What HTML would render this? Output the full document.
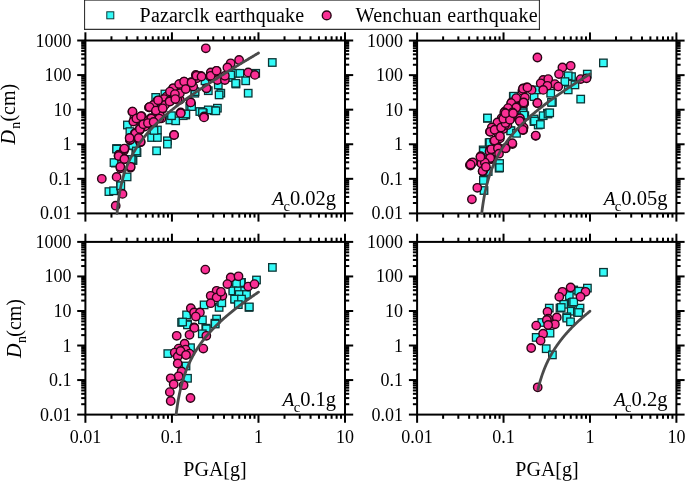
<!DOCTYPE html>
<html><head><meta charset="utf-8"><style>
html,body{margin:0;padding:0;background:#fff;width:685px;height:481px;overflow:hidden}
svg{display:block;will-change:transform}
</style></head><body>
<svg width="685" height="481" viewBox="0 0 685 481">
<rect width="685" height="481" fill="#fff"/>
<rect x="85.40" y="40.50" width="259.60" height="172.90" fill="none" stroke="#000" stroke-width="2.0"/>
<line x1="85.40" y1="213.40" x2="85.40" y2="221.60" stroke="#000" stroke-width="2.0"/>
<line x1="85.40" y1="40.50" x2="85.40" y2="32.30" stroke="#000" stroke-width="2.0"/>
<line x1="111.45" y1="213.40" x2="111.45" y2="217.60" stroke="#000" stroke-width="2.0"/>
<line x1="111.45" y1="40.50" x2="111.45" y2="36.30" stroke="#000" stroke-width="2.0"/>
<line x1="126.69" y1="213.40" x2="126.69" y2="217.60" stroke="#000" stroke-width="2.0"/>
<line x1="126.69" y1="40.50" x2="126.69" y2="36.30" stroke="#000" stroke-width="2.0"/>
<line x1="137.50" y1="213.40" x2="137.50" y2="217.60" stroke="#000" stroke-width="2.0"/>
<line x1="137.50" y1="40.50" x2="137.50" y2="36.30" stroke="#000" stroke-width="2.0"/>
<line x1="145.88" y1="213.40" x2="145.88" y2="217.60" stroke="#000" stroke-width="2.0"/>
<line x1="145.88" y1="40.50" x2="145.88" y2="36.30" stroke="#000" stroke-width="2.0"/>
<line x1="152.74" y1="213.40" x2="152.74" y2="217.60" stroke="#000" stroke-width="2.0"/>
<line x1="152.74" y1="40.50" x2="152.74" y2="36.30" stroke="#000" stroke-width="2.0"/>
<line x1="158.53" y1="213.40" x2="158.53" y2="217.60" stroke="#000" stroke-width="2.0"/>
<line x1="158.53" y1="40.50" x2="158.53" y2="36.30" stroke="#000" stroke-width="2.0"/>
<line x1="163.55" y1="213.40" x2="163.55" y2="217.60" stroke="#000" stroke-width="2.0"/>
<line x1="163.55" y1="40.50" x2="163.55" y2="36.30" stroke="#000" stroke-width="2.0"/>
<line x1="167.97" y1="213.40" x2="167.97" y2="217.60" stroke="#000" stroke-width="2.0"/>
<line x1="167.97" y1="40.50" x2="167.97" y2="36.30" stroke="#000" stroke-width="2.0"/>
<line x1="171.93" y1="213.40" x2="171.93" y2="221.60" stroke="#000" stroke-width="2.0"/>
<line x1="171.93" y1="40.50" x2="171.93" y2="32.30" stroke="#000" stroke-width="2.0"/>
<line x1="197.98" y1="213.40" x2="197.98" y2="217.60" stroke="#000" stroke-width="2.0"/>
<line x1="197.98" y1="40.50" x2="197.98" y2="36.30" stroke="#000" stroke-width="2.0"/>
<line x1="213.22" y1="213.40" x2="213.22" y2="217.60" stroke="#000" stroke-width="2.0"/>
<line x1="213.22" y1="40.50" x2="213.22" y2="36.30" stroke="#000" stroke-width="2.0"/>
<line x1="224.03" y1="213.40" x2="224.03" y2="217.60" stroke="#000" stroke-width="2.0"/>
<line x1="224.03" y1="40.50" x2="224.03" y2="36.30" stroke="#000" stroke-width="2.0"/>
<line x1="232.42" y1="213.40" x2="232.42" y2="217.60" stroke="#000" stroke-width="2.0"/>
<line x1="232.42" y1="40.50" x2="232.42" y2="36.30" stroke="#000" stroke-width="2.0"/>
<line x1="239.27" y1="213.40" x2="239.27" y2="217.60" stroke="#000" stroke-width="2.0"/>
<line x1="239.27" y1="40.50" x2="239.27" y2="36.30" stroke="#000" stroke-width="2.0"/>
<line x1="245.06" y1="213.40" x2="245.06" y2="217.60" stroke="#000" stroke-width="2.0"/>
<line x1="245.06" y1="40.50" x2="245.06" y2="36.30" stroke="#000" stroke-width="2.0"/>
<line x1="250.08" y1="213.40" x2="250.08" y2="217.60" stroke="#000" stroke-width="2.0"/>
<line x1="250.08" y1="40.50" x2="250.08" y2="36.30" stroke="#000" stroke-width="2.0"/>
<line x1="254.51" y1="213.40" x2="254.51" y2="217.60" stroke="#000" stroke-width="2.0"/>
<line x1="254.51" y1="40.50" x2="254.51" y2="36.30" stroke="#000" stroke-width="2.0"/>
<line x1="258.47" y1="213.40" x2="258.47" y2="221.60" stroke="#000" stroke-width="2.0"/>
<line x1="258.47" y1="40.50" x2="258.47" y2="32.30" stroke="#000" stroke-width="2.0"/>
<line x1="284.52" y1="213.40" x2="284.52" y2="217.60" stroke="#000" stroke-width="2.0"/>
<line x1="284.52" y1="40.50" x2="284.52" y2="36.30" stroke="#000" stroke-width="2.0"/>
<line x1="299.75" y1="213.40" x2="299.75" y2="217.60" stroke="#000" stroke-width="2.0"/>
<line x1="299.75" y1="40.50" x2="299.75" y2="36.30" stroke="#000" stroke-width="2.0"/>
<line x1="310.56" y1="213.40" x2="310.56" y2="217.60" stroke="#000" stroke-width="2.0"/>
<line x1="310.56" y1="40.50" x2="310.56" y2="36.30" stroke="#000" stroke-width="2.0"/>
<line x1="318.95" y1="213.40" x2="318.95" y2="217.60" stroke="#000" stroke-width="2.0"/>
<line x1="318.95" y1="40.50" x2="318.95" y2="36.30" stroke="#000" stroke-width="2.0"/>
<line x1="325.80" y1="213.40" x2="325.80" y2="217.60" stroke="#000" stroke-width="2.0"/>
<line x1="325.80" y1="40.50" x2="325.80" y2="36.30" stroke="#000" stroke-width="2.0"/>
<line x1="331.60" y1="213.40" x2="331.60" y2="217.60" stroke="#000" stroke-width="2.0"/>
<line x1="331.60" y1="40.50" x2="331.60" y2="36.30" stroke="#000" stroke-width="2.0"/>
<line x1="336.61" y1="213.40" x2="336.61" y2="217.60" stroke="#000" stroke-width="2.0"/>
<line x1="336.61" y1="40.50" x2="336.61" y2="36.30" stroke="#000" stroke-width="2.0"/>
<line x1="341.04" y1="213.40" x2="341.04" y2="217.60" stroke="#000" stroke-width="2.0"/>
<line x1="341.04" y1="40.50" x2="341.04" y2="36.30" stroke="#000" stroke-width="2.0"/>
<line x1="345.00" y1="213.40" x2="345.00" y2="221.60" stroke="#000" stroke-width="2.0"/>
<line x1="345.00" y1="40.50" x2="345.00" y2="32.30" stroke="#000" stroke-width="2.0"/>
<line x1="85.40" y1="213.40" x2="77.20" y2="213.40" stroke="#000" stroke-width="2.0"/>
<line x1="345.00" y1="213.40" x2="353.20" y2="213.40" stroke="#000" stroke-width="2.0"/>
<line x1="85.40" y1="202.99" x2="81.20" y2="202.99" stroke="#000" stroke-width="2.0"/>
<line x1="345.00" y1="202.99" x2="349.20" y2="202.99" stroke="#000" stroke-width="2.0"/>
<line x1="85.40" y1="196.90" x2="81.20" y2="196.90" stroke="#000" stroke-width="2.0"/>
<line x1="345.00" y1="196.90" x2="349.20" y2="196.90" stroke="#000" stroke-width="2.0"/>
<line x1="85.40" y1="192.58" x2="81.20" y2="192.58" stroke="#000" stroke-width="2.0"/>
<line x1="345.00" y1="192.58" x2="349.20" y2="192.58" stroke="#000" stroke-width="2.0"/>
<line x1="85.40" y1="189.23" x2="81.20" y2="189.23" stroke="#000" stroke-width="2.0"/>
<line x1="345.00" y1="189.23" x2="349.20" y2="189.23" stroke="#000" stroke-width="2.0"/>
<line x1="85.40" y1="186.49" x2="81.20" y2="186.49" stroke="#000" stroke-width="2.0"/>
<line x1="345.00" y1="186.49" x2="349.20" y2="186.49" stroke="#000" stroke-width="2.0"/>
<line x1="85.40" y1="184.18" x2="81.20" y2="184.18" stroke="#000" stroke-width="2.0"/>
<line x1="345.00" y1="184.18" x2="349.20" y2="184.18" stroke="#000" stroke-width="2.0"/>
<line x1="85.40" y1="182.17" x2="81.20" y2="182.17" stroke="#000" stroke-width="2.0"/>
<line x1="345.00" y1="182.17" x2="349.20" y2="182.17" stroke="#000" stroke-width="2.0"/>
<line x1="85.40" y1="180.40" x2="81.20" y2="180.40" stroke="#000" stroke-width="2.0"/>
<line x1="345.00" y1="180.40" x2="349.20" y2="180.40" stroke="#000" stroke-width="2.0"/>
<line x1="85.40" y1="178.82" x2="77.20" y2="178.82" stroke="#000" stroke-width="2.0"/>
<line x1="345.00" y1="178.82" x2="353.20" y2="178.82" stroke="#000" stroke-width="2.0"/>
<line x1="85.40" y1="168.41" x2="81.20" y2="168.41" stroke="#000" stroke-width="2.0"/>
<line x1="345.00" y1="168.41" x2="349.20" y2="168.41" stroke="#000" stroke-width="2.0"/>
<line x1="85.40" y1="162.32" x2="81.20" y2="162.32" stroke="#000" stroke-width="2.0"/>
<line x1="345.00" y1="162.32" x2="349.20" y2="162.32" stroke="#000" stroke-width="2.0"/>
<line x1="85.40" y1="158.00" x2="81.20" y2="158.00" stroke="#000" stroke-width="2.0"/>
<line x1="345.00" y1="158.00" x2="349.20" y2="158.00" stroke="#000" stroke-width="2.0"/>
<line x1="85.40" y1="154.65" x2="81.20" y2="154.65" stroke="#000" stroke-width="2.0"/>
<line x1="345.00" y1="154.65" x2="349.20" y2="154.65" stroke="#000" stroke-width="2.0"/>
<line x1="85.40" y1="151.91" x2="81.20" y2="151.91" stroke="#000" stroke-width="2.0"/>
<line x1="345.00" y1="151.91" x2="349.20" y2="151.91" stroke="#000" stroke-width="2.0"/>
<line x1="85.40" y1="149.60" x2="81.20" y2="149.60" stroke="#000" stroke-width="2.0"/>
<line x1="345.00" y1="149.60" x2="349.20" y2="149.60" stroke="#000" stroke-width="2.0"/>
<line x1="85.40" y1="147.59" x2="81.20" y2="147.59" stroke="#000" stroke-width="2.0"/>
<line x1="345.00" y1="147.59" x2="349.20" y2="147.59" stroke="#000" stroke-width="2.0"/>
<line x1="85.40" y1="145.82" x2="81.20" y2="145.82" stroke="#000" stroke-width="2.0"/>
<line x1="345.00" y1="145.82" x2="349.20" y2="145.82" stroke="#000" stroke-width="2.0"/>
<line x1="85.40" y1="144.24" x2="77.20" y2="144.24" stroke="#000" stroke-width="2.0"/>
<line x1="345.00" y1="144.24" x2="353.20" y2="144.24" stroke="#000" stroke-width="2.0"/>
<line x1="85.40" y1="133.83" x2="81.20" y2="133.83" stroke="#000" stroke-width="2.0"/>
<line x1="345.00" y1="133.83" x2="349.20" y2="133.83" stroke="#000" stroke-width="2.0"/>
<line x1="85.40" y1="127.74" x2="81.20" y2="127.74" stroke="#000" stroke-width="2.0"/>
<line x1="345.00" y1="127.74" x2="349.20" y2="127.74" stroke="#000" stroke-width="2.0"/>
<line x1="85.40" y1="123.42" x2="81.20" y2="123.42" stroke="#000" stroke-width="2.0"/>
<line x1="345.00" y1="123.42" x2="349.20" y2="123.42" stroke="#000" stroke-width="2.0"/>
<line x1="85.40" y1="120.07" x2="81.20" y2="120.07" stroke="#000" stroke-width="2.0"/>
<line x1="345.00" y1="120.07" x2="349.20" y2="120.07" stroke="#000" stroke-width="2.0"/>
<line x1="85.40" y1="117.33" x2="81.20" y2="117.33" stroke="#000" stroke-width="2.0"/>
<line x1="345.00" y1="117.33" x2="349.20" y2="117.33" stroke="#000" stroke-width="2.0"/>
<line x1="85.40" y1="115.02" x2="81.20" y2="115.02" stroke="#000" stroke-width="2.0"/>
<line x1="345.00" y1="115.02" x2="349.20" y2="115.02" stroke="#000" stroke-width="2.0"/>
<line x1="85.40" y1="113.01" x2="81.20" y2="113.01" stroke="#000" stroke-width="2.0"/>
<line x1="345.00" y1="113.01" x2="349.20" y2="113.01" stroke="#000" stroke-width="2.0"/>
<line x1="85.40" y1="111.24" x2="81.20" y2="111.24" stroke="#000" stroke-width="2.0"/>
<line x1="345.00" y1="111.24" x2="349.20" y2="111.24" stroke="#000" stroke-width="2.0"/>
<line x1="85.40" y1="109.66" x2="77.20" y2="109.66" stroke="#000" stroke-width="2.0"/>
<line x1="345.00" y1="109.66" x2="353.20" y2="109.66" stroke="#000" stroke-width="2.0"/>
<line x1="85.40" y1="99.25" x2="81.20" y2="99.25" stroke="#000" stroke-width="2.0"/>
<line x1="345.00" y1="99.25" x2="349.20" y2="99.25" stroke="#000" stroke-width="2.0"/>
<line x1="85.40" y1="93.16" x2="81.20" y2="93.16" stroke="#000" stroke-width="2.0"/>
<line x1="345.00" y1="93.16" x2="349.20" y2="93.16" stroke="#000" stroke-width="2.0"/>
<line x1="85.40" y1="88.84" x2="81.20" y2="88.84" stroke="#000" stroke-width="2.0"/>
<line x1="345.00" y1="88.84" x2="349.20" y2="88.84" stroke="#000" stroke-width="2.0"/>
<line x1="85.40" y1="85.49" x2="81.20" y2="85.49" stroke="#000" stroke-width="2.0"/>
<line x1="345.00" y1="85.49" x2="349.20" y2="85.49" stroke="#000" stroke-width="2.0"/>
<line x1="85.40" y1="82.75" x2="81.20" y2="82.75" stroke="#000" stroke-width="2.0"/>
<line x1="345.00" y1="82.75" x2="349.20" y2="82.75" stroke="#000" stroke-width="2.0"/>
<line x1="85.40" y1="80.44" x2="81.20" y2="80.44" stroke="#000" stroke-width="2.0"/>
<line x1="345.00" y1="80.44" x2="349.20" y2="80.44" stroke="#000" stroke-width="2.0"/>
<line x1="85.40" y1="78.43" x2="81.20" y2="78.43" stroke="#000" stroke-width="2.0"/>
<line x1="345.00" y1="78.43" x2="349.20" y2="78.43" stroke="#000" stroke-width="2.0"/>
<line x1="85.40" y1="76.66" x2="81.20" y2="76.66" stroke="#000" stroke-width="2.0"/>
<line x1="345.00" y1="76.66" x2="349.20" y2="76.66" stroke="#000" stroke-width="2.0"/>
<line x1="85.40" y1="75.08" x2="77.20" y2="75.08" stroke="#000" stroke-width="2.0"/>
<line x1="345.00" y1="75.08" x2="353.20" y2="75.08" stroke="#000" stroke-width="2.0"/>
<line x1="85.40" y1="64.67" x2="81.20" y2="64.67" stroke="#000" stroke-width="2.0"/>
<line x1="345.00" y1="64.67" x2="349.20" y2="64.67" stroke="#000" stroke-width="2.0"/>
<line x1="85.40" y1="58.58" x2="81.20" y2="58.58" stroke="#000" stroke-width="2.0"/>
<line x1="345.00" y1="58.58" x2="349.20" y2="58.58" stroke="#000" stroke-width="2.0"/>
<line x1="85.40" y1="54.26" x2="81.20" y2="54.26" stroke="#000" stroke-width="2.0"/>
<line x1="345.00" y1="54.26" x2="349.20" y2="54.26" stroke="#000" stroke-width="2.0"/>
<line x1="85.40" y1="50.91" x2="81.20" y2="50.91" stroke="#000" stroke-width="2.0"/>
<line x1="345.00" y1="50.91" x2="349.20" y2="50.91" stroke="#000" stroke-width="2.0"/>
<line x1="85.40" y1="48.17" x2="81.20" y2="48.17" stroke="#000" stroke-width="2.0"/>
<line x1="345.00" y1="48.17" x2="349.20" y2="48.17" stroke="#000" stroke-width="2.0"/>
<line x1="85.40" y1="45.86" x2="81.20" y2="45.86" stroke="#000" stroke-width="2.0"/>
<line x1="345.00" y1="45.86" x2="349.20" y2="45.86" stroke="#000" stroke-width="2.0"/>
<line x1="85.40" y1="43.85" x2="81.20" y2="43.85" stroke="#000" stroke-width="2.0"/>
<line x1="345.00" y1="43.85" x2="349.20" y2="43.85" stroke="#000" stroke-width="2.0"/>
<line x1="85.40" y1="42.08" x2="81.20" y2="42.08" stroke="#000" stroke-width="2.0"/>
<line x1="345.00" y1="42.08" x2="349.20" y2="42.08" stroke="#000" stroke-width="2.0"/>
<line x1="85.40" y1="40.50" x2="77.20" y2="40.50" stroke="#000" stroke-width="2.0"/>
<line x1="345.00" y1="40.50" x2="353.20" y2="40.50" stroke="#000" stroke-width="2.0"/>
<rect x="417.10" y="40.60" width="259.30" height="172.80" fill="none" stroke="#000" stroke-width="2.0"/>
<line x1="417.10" y1="213.40" x2="417.10" y2="221.60" stroke="#000" stroke-width="2.0"/>
<line x1="417.10" y1="40.60" x2="417.10" y2="32.40" stroke="#000" stroke-width="2.0"/>
<line x1="443.12" y1="213.40" x2="443.12" y2="217.60" stroke="#000" stroke-width="2.0"/>
<line x1="443.12" y1="40.60" x2="443.12" y2="36.40" stroke="#000" stroke-width="2.0"/>
<line x1="458.34" y1="213.40" x2="458.34" y2="217.60" stroke="#000" stroke-width="2.0"/>
<line x1="458.34" y1="40.60" x2="458.34" y2="36.40" stroke="#000" stroke-width="2.0"/>
<line x1="469.14" y1="213.40" x2="469.14" y2="217.60" stroke="#000" stroke-width="2.0"/>
<line x1="469.14" y1="40.60" x2="469.14" y2="36.40" stroke="#000" stroke-width="2.0"/>
<line x1="477.51" y1="213.40" x2="477.51" y2="217.60" stroke="#000" stroke-width="2.0"/>
<line x1="477.51" y1="40.60" x2="477.51" y2="36.40" stroke="#000" stroke-width="2.0"/>
<line x1="484.36" y1="213.40" x2="484.36" y2="217.60" stroke="#000" stroke-width="2.0"/>
<line x1="484.36" y1="40.60" x2="484.36" y2="36.40" stroke="#000" stroke-width="2.0"/>
<line x1="490.14" y1="213.40" x2="490.14" y2="217.60" stroke="#000" stroke-width="2.0"/>
<line x1="490.14" y1="40.60" x2="490.14" y2="36.40" stroke="#000" stroke-width="2.0"/>
<line x1="495.16" y1="213.40" x2="495.16" y2="217.60" stroke="#000" stroke-width="2.0"/>
<line x1="495.16" y1="40.60" x2="495.16" y2="36.40" stroke="#000" stroke-width="2.0"/>
<line x1="499.58" y1="213.40" x2="499.58" y2="217.60" stroke="#000" stroke-width="2.0"/>
<line x1="499.58" y1="40.60" x2="499.58" y2="36.40" stroke="#000" stroke-width="2.0"/>
<line x1="503.53" y1="213.40" x2="503.53" y2="221.60" stroke="#000" stroke-width="2.0"/>
<line x1="503.53" y1="40.60" x2="503.53" y2="32.40" stroke="#000" stroke-width="2.0"/>
<line x1="529.55" y1="213.40" x2="529.55" y2="217.60" stroke="#000" stroke-width="2.0"/>
<line x1="529.55" y1="40.60" x2="529.55" y2="36.40" stroke="#000" stroke-width="2.0"/>
<line x1="544.77" y1="213.40" x2="544.77" y2="217.60" stroke="#000" stroke-width="2.0"/>
<line x1="544.77" y1="40.60" x2="544.77" y2="36.40" stroke="#000" stroke-width="2.0"/>
<line x1="555.57" y1="213.40" x2="555.57" y2="217.60" stroke="#000" stroke-width="2.0"/>
<line x1="555.57" y1="40.60" x2="555.57" y2="36.40" stroke="#000" stroke-width="2.0"/>
<line x1="563.95" y1="213.40" x2="563.95" y2="217.60" stroke="#000" stroke-width="2.0"/>
<line x1="563.95" y1="40.60" x2="563.95" y2="36.40" stroke="#000" stroke-width="2.0"/>
<line x1="570.79" y1="213.40" x2="570.79" y2="217.60" stroke="#000" stroke-width="2.0"/>
<line x1="570.79" y1="40.60" x2="570.79" y2="36.40" stroke="#000" stroke-width="2.0"/>
<line x1="576.58" y1="213.40" x2="576.58" y2="217.60" stroke="#000" stroke-width="2.0"/>
<line x1="576.58" y1="40.60" x2="576.58" y2="36.40" stroke="#000" stroke-width="2.0"/>
<line x1="581.59" y1="213.40" x2="581.59" y2="217.60" stroke="#000" stroke-width="2.0"/>
<line x1="581.59" y1="40.60" x2="581.59" y2="36.40" stroke="#000" stroke-width="2.0"/>
<line x1="586.01" y1="213.40" x2="586.01" y2="217.60" stroke="#000" stroke-width="2.0"/>
<line x1="586.01" y1="40.60" x2="586.01" y2="36.40" stroke="#000" stroke-width="2.0"/>
<line x1="589.97" y1="213.40" x2="589.97" y2="221.60" stroke="#000" stroke-width="2.0"/>
<line x1="589.97" y1="40.60" x2="589.97" y2="32.40" stroke="#000" stroke-width="2.0"/>
<line x1="615.99" y1="213.40" x2="615.99" y2="217.60" stroke="#000" stroke-width="2.0"/>
<line x1="615.99" y1="40.60" x2="615.99" y2="36.40" stroke="#000" stroke-width="2.0"/>
<line x1="631.21" y1="213.40" x2="631.21" y2="217.60" stroke="#000" stroke-width="2.0"/>
<line x1="631.21" y1="40.60" x2="631.21" y2="36.40" stroke="#000" stroke-width="2.0"/>
<line x1="642.00" y1="213.40" x2="642.00" y2="217.60" stroke="#000" stroke-width="2.0"/>
<line x1="642.00" y1="40.60" x2="642.00" y2="36.40" stroke="#000" stroke-width="2.0"/>
<line x1="650.38" y1="213.40" x2="650.38" y2="217.60" stroke="#000" stroke-width="2.0"/>
<line x1="650.38" y1="40.60" x2="650.38" y2="36.40" stroke="#000" stroke-width="2.0"/>
<line x1="657.22" y1="213.40" x2="657.22" y2="217.60" stroke="#000" stroke-width="2.0"/>
<line x1="657.22" y1="40.60" x2="657.22" y2="36.40" stroke="#000" stroke-width="2.0"/>
<line x1="663.01" y1="213.40" x2="663.01" y2="217.60" stroke="#000" stroke-width="2.0"/>
<line x1="663.01" y1="40.60" x2="663.01" y2="36.40" stroke="#000" stroke-width="2.0"/>
<line x1="668.02" y1="213.40" x2="668.02" y2="217.60" stroke="#000" stroke-width="2.0"/>
<line x1="668.02" y1="40.60" x2="668.02" y2="36.40" stroke="#000" stroke-width="2.0"/>
<line x1="672.45" y1="213.40" x2="672.45" y2="217.60" stroke="#000" stroke-width="2.0"/>
<line x1="672.45" y1="40.60" x2="672.45" y2="36.40" stroke="#000" stroke-width="2.0"/>
<line x1="676.40" y1="213.40" x2="676.40" y2="221.60" stroke="#000" stroke-width="2.0"/>
<line x1="676.40" y1="40.60" x2="676.40" y2="32.40" stroke="#000" stroke-width="2.0"/>
<line x1="417.10" y1="213.40" x2="408.90" y2="213.40" stroke="#000" stroke-width="2.0"/>
<line x1="676.40" y1="213.40" x2="684.60" y2="213.40" stroke="#000" stroke-width="2.0"/>
<line x1="417.10" y1="203.00" x2="412.90" y2="203.00" stroke="#000" stroke-width="2.0"/>
<line x1="676.40" y1="203.00" x2="680.60" y2="203.00" stroke="#000" stroke-width="2.0"/>
<line x1="417.10" y1="196.91" x2="412.90" y2="196.91" stroke="#000" stroke-width="2.0"/>
<line x1="676.40" y1="196.91" x2="680.60" y2="196.91" stroke="#000" stroke-width="2.0"/>
<line x1="417.10" y1="192.59" x2="412.90" y2="192.59" stroke="#000" stroke-width="2.0"/>
<line x1="676.40" y1="192.59" x2="680.60" y2="192.59" stroke="#000" stroke-width="2.0"/>
<line x1="417.10" y1="189.24" x2="412.90" y2="189.24" stroke="#000" stroke-width="2.0"/>
<line x1="676.40" y1="189.24" x2="680.60" y2="189.24" stroke="#000" stroke-width="2.0"/>
<line x1="417.10" y1="186.51" x2="412.90" y2="186.51" stroke="#000" stroke-width="2.0"/>
<line x1="676.40" y1="186.51" x2="680.60" y2="186.51" stroke="#000" stroke-width="2.0"/>
<line x1="417.10" y1="184.19" x2="412.90" y2="184.19" stroke="#000" stroke-width="2.0"/>
<line x1="676.40" y1="184.19" x2="680.60" y2="184.19" stroke="#000" stroke-width="2.0"/>
<line x1="417.10" y1="182.19" x2="412.90" y2="182.19" stroke="#000" stroke-width="2.0"/>
<line x1="676.40" y1="182.19" x2="680.60" y2="182.19" stroke="#000" stroke-width="2.0"/>
<line x1="417.10" y1="180.42" x2="412.90" y2="180.42" stroke="#000" stroke-width="2.0"/>
<line x1="676.40" y1="180.42" x2="680.60" y2="180.42" stroke="#000" stroke-width="2.0"/>
<line x1="417.10" y1="178.84" x2="408.90" y2="178.84" stroke="#000" stroke-width="2.0"/>
<line x1="676.40" y1="178.84" x2="684.60" y2="178.84" stroke="#000" stroke-width="2.0"/>
<line x1="417.10" y1="168.44" x2="412.90" y2="168.44" stroke="#000" stroke-width="2.0"/>
<line x1="676.40" y1="168.44" x2="680.60" y2="168.44" stroke="#000" stroke-width="2.0"/>
<line x1="417.10" y1="162.35" x2="412.90" y2="162.35" stroke="#000" stroke-width="2.0"/>
<line x1="676.40" y1="162.35" x2="680.60" y2="162.35" stroke="#000" stroke-width="2.0"/>
<line x1="417.10" y1="158.03" x2="412.90" y2="158.03" stroke="#000" stroke-width="2.0"/>
<line x1="676.40" y1="158.03" x2="680.60" y2="158.03" stroke="#000" stroke-width="2.0"/>
<line x1="417.10" y1="154.68" x2="412.90" y2="154.68" stroke="#000" stroke-width="2.0"/>
<line x1="676.40" y1="154.68" x2="680.60" y2="154.68" stroke="#000" stroke-width="2.0"/>
<line x1="417.10" y1="151.95" x2="412.90" y2="151.95" stroke="#000" stroke-width="2.0"/>
<line x1="676.40" y1="151.95" x2="680.60" y2="151.95" stroke="#000" stroke-width="2.0"/>
<line x1="417.10" y1="149.63" x2="412.90" y2="149.63" stroke="#000" stroke-width="2.0"/>
<line x1="676.40" y1="149.63" x2="680.60" y2="149.63" stroke="#000" stroke-width="2.0"/>
<line x1="417.10" y1="147.63" x2="412.90" y2="147.63" stroke="#000" stroke-width="2.0"/>
<line x1="676.40" y1="147.63" x2="680.60" y2="147.63" stroke="#000" stroke-width="2.0"/>
<line x1="417.10" y1="145.86" x2="412.90" y2="145.86" stroke="#000" stroke-width="2.0"/>
<line x1="676.40" y1="145.86" x2="680.60" y2="145.86" stroke="#000" stroke-width="2.0"/>
<line x1="417.10" y1="144.28" x2="408.90" y2="144.28" stroke="#000" stroke-width="2.0"/>
<line x1="676.40" y1="144.28" x2="684.60" y2="144.28" stroke="#000" stroke-width="2.0"/>
<line x1="417.10" y1="133.88" x2="412.90" y2="133.88" stroke="#000" stroke-width="2.0"/>
<line x1="676.40" y1="133.88" x2="680.60" y2="133.88" stroke="#000" stroke-width="2.0"/>
<line x1="417.10" y1="127.79" x2="412.90" y2="127.79" stroke="#000" stroke-width="2.0"/>
<line x1="676.40" y1="127.79" x2="680.60" y2="127.79" stroke="#000" stroke-width="2.0"/>
<line x1="417.10" y1="123.47" x2="412.90" y2="123.47" stroke="#000" stroke-width="2.0"/>
<line x1="676.40" y1="123.47" x2="680.60" y2="123.47" stroke="#000" stroke-width="2.0"/>
<line x1="417.10" y1="120.12" x2="412.90" y2="120.12" stroke="#000" stroke-width="2.0"/>
<line x1="676.40" y1="120.12" x2="680.60" y2="120.12" stroke="#000" stroke-width="2.0"/>
<line x1="417.10" y1="117.39" x2="412.90" y2="117.39" stroke="#000" stroke-width="2.0"/>
<line x1="676.40" y1="117.39" x2="680.60" y2="117.39" stroke="#000" stroke-width="2.0"/>
<line x1="417.10" y1="115.07" x2="412.90" y2="115.07" stroke="#000" stroke-width="2.0"/>
<line x1="676.40" y1="115.07" x2="680.60" y2="115.07" stroke="#000" stroke-width="2.0"/>
<line x1="417.10" y1="113.07" x2="412.90" y2="113.07" stroke="#000" stroke-width="2.0"/>
<line x1="676.40" y1="113.07" x2="680.60" y2="113.07" stroke="#000" stroke-width="2.0"/>
<line x1="417.10" y1="111.30" x2="412.90" y2="111.30" stroke="#000" stroke-width="2.0"/>
<line x1="676.40" y1="111.30" x2="680.60" y2="111.30" stroke="#000" stroke-width="2.0"/>
<line x1="417.10" y1="109.72" x2="408.90" y2="109.72" stroke="#000" stroke-width="2.0"/>
<line x1="676.40" y1="109.72" x2="684.60" y2="109.72" stroke="#000" stroke-width="2.0"/>
<line x1="417.10" y1="99.32" x2="412.90" y2="99.32" stroke="#000" stroke-width="2.0"/>
<line x1="676.40" y1="99.32" x2="680.60" y2="99.32" stroke="#000" stroke-width="2.0"/>
<line x1="417.10" y1="93.23" x2="412.90" y2="93.23" stroke="#000" stroke-width="2.0"/>
<line x1="676.40" y1="93.23" x2="680.60" y2="93.23" stroke="#000" stroke-width="2.0"/>
<line x1="417.10" y1="88.91" x2="412.90" y2="88.91" stroke="#000" stroke-width="2.0"/>
<line x1="676.40" y1="88.91" x2="680.60" y2="88.91" stroke="#000" stroke-width="2.0"/>
<line x1="417.10" y1="85.56" x2="412.90" y2="85.56" stroke="#000" stroke-width="2.0"/>
<line x1="676.40" y1="85.56" x2="680.60" y2="85.56" stroke="#000" stroke-width="2.0"/>
<line x1="417.10" y1="82.83" x2="412.90" y2="82.83" stroke="#000" stroke-width="2.0"/>
<line x1="676.40" y1="82.83" x2="680.60" y2="82.83" stroke="#000" stroke-width="2.0"/>
<line x1="417.10" y1="80.51" x2="412.90" y2="80.51" stroke="#000" stroke-width="2.0"/>
<line x1="676.40" y1="80.51" x2="680.60" y2="80.51" stroke="#000" stroke-width="2.0"/>
<line x1="417.10" y1="78.51" x2="412.90" y2="78.51" stroke="#000" stroke-width="2.0"/>
<line x1="676.40" y1="78.51" x2="680.60" y2="78.51" stroke="#000" stroke-width="2.0"/>
<line x1="417.10" y1="76.74" x2="412.90" y2="76.74" stroke="#000" stroke-width="2.0"/>
<line x1="676.40" y1="76.74" x2="680.60" y2="76.74" stroke="#000" stroke-width="2.0"/>
<line x1="417.10" y1="75.16" x2="408.90" y2="75.16" stroke="#000" stroke-width="2.0"/>
<line x1="676.40" y1="75.16" x2="684.60" y2="75.16" stroke="#000" stroke-width="2.0"/>
<line x1="417.10" y1="64.76" x2="412.90" y2="64.76" stroke="#000" stroke-width="2.0"/>
<line x1="676.40" y1="64.76" x2="680.60" y2="64.76" stroke="#000" stroke-width="2.0"/>
<line x1="417.10" y1="58.67" x2="412.90" y2="58.67" stroke="#000" stroke-width="2.0"/>
<line x1="676.40" y1="58.67" x2="680.60" y2="58.67" stroke="#000" stroke-width="2.0"/>
<line x1="417.10" y1="54.35" x2="412.90" y2="54.35" stroke="#000" stroke-width="2.0"/>
<line x1="676.40" y1="54.35" x2="680.60" y2="54.35" stroke="#000" stroke-width="2.0"/>
<line x1="417.10" y1="51.00" x2="412.90" y2="51.00" stroke="#000" stroke-width="2.0"/>
<line x1="676.40" y1="51.00" x2="680.60" y2="51.00" stroke="#000" stroke-width="2.0"/>
<line x1="417.10" y1="48.27" x2="412.90" y2="48.27" stroke="#000" stroke-width="2.0"/>
<line x1="676.40" y1="48.27" x2="680.60" y2="48.27" stroke="#000" stroke-width="2.0"/>
<line x1="417.10" y1="45.95" x2="412.90" y2="45.95" stroke="#000" stroke-width="2.0"/>
<line x1="676.40" y1="45.95" x2="680.60" y2="45.95" stroke="#000" stroke-width="2.0"/>
<line x1="417.10" y1="43.95" x2="412.90" y2="43.95" stroke="#000" stroke-width="2.0"/>
<line x1="676.40" y1="43.95" x2="680.60" y2="43.95" stroke="#000" stroke-width="2.0"/>
<line x1="417.10" y1="42.18" x2="412.90" y2="42.18" stroke="#000" stroke-width="2.0"/>
<line x1="676.40" y1="42.18" x2="680.60" y2="42.18" stroke="#000" stroke-width="2.0"/>
<line x1="417.10" y1="40.60" x2="408.90" y2="40.60" stroke="#000" stroke-width="2.0"/>
<line x1="676.40" y1="40.60" x2="684.60" y2="40.60" stroke="#000" stroke-width="2.0"/>
<rect x="85.40" y="241.90" width="259.60" height="172.70" fill="none" stroke="#000" stroke-width="2.0"/>
<line x1="85.40" y1="414.60" x2="85.40" y2="422.80" stroke="#000" stroke-width="2.0"/>
<line x1="85.40" y1="241.90" x2="85.40" y2="233.70" stroke="#000" stroke-width="2.0"/>
<line x1="111.45" y1="414.60" x2="111.45" y2="418.80" stroke="#000" stroke-width="2.0"/>
<line x1="111.45" y1="241.90" x2="111.45" y2="237.70" stroke="#000" stroke-width="2.0"/>
<line x1="126.69" y1="414.60" x2="126.69" y2="418.80" stroke="#000" stroke-width="2.0"/>
<line x1="126.69" y1="241.90" x2="126.69" y2="237.70" stroke="#000" stroke-width="2.0"/>
<line x1="137.50" y1="414.60" x2="137.50" y2="418.80" stroke="#000" stroke-width="2.0"/>
<line x1="137.50" y1="241.90" x2="137.50" y2="237.70" stroke="#000" stroke-width="2.0"/>
<line x1="145.88" y1="414.60" x2="145.88" y2="418.80" stroke="#000" stroke-width="2.0"/>
<line x1="145.88" y1="241.90" x2="145.88" y2="237.70" stroke="#000" stroke-width="2.0"/>
<line x1="152.74" y1="414.60" x2="152.74" y2="418.80" stroke="#000" stroke-width="2.0"/>
<line x1="152.74" y1="241.90" x2="152.74" y2="237.70" stroke="#000" stroke-width="2.0"/>
<line x1="158.53" y1="414.60" x2="158.53" y2="418.80" stroke="#000" stroke-width="2.0"/>
<line x1="158.53" y1="241.90" x2="158.53" y2="237.70" stroke="#000" stroke-width="2.0"/>
<line x1="163.55" y1="414.60" x2="163.55" y2="418.80" stroke="#000" stroke-width="2.0"/>
<line x1="163.55" y1="241.90" x2="163.55" y2="237.70" stroke="#000" stroke-width="2.0"/>
<line x1="167.97" y1="414.60" x2="167.97" y2="418.80" stroke="#000" stroke-width="2.0"/>
<line x1="167.97" y1="241.90" x2="167.97" y2="237.70" stroke="#000" stroke-width="2.0"/>
<line x1="171.93" y1="414.60" x2="171.93" y2="422.80" stroke="#000" stroke-width="2.0"/>
<line x1="171.93" y1="241.90" x2="171.93" y2="233.70" stroke="#000" stroke-width="2.0"/>
<line x1="197.98" y1="414.60" x2="197.98" y2="418.80" stroke="#000" stroke-width="2.0"/>
<line x1="197.98" y1="241.90" x2="197.98" y2="237.70" stroke="#000" stroke-width="2.0"/>
<line x1="213.22" y1="414.60" x2="213.22" y2="418.80" stroke="#000" stroke-width="2.0"/>
<line x1="213.22" y1="241.90" x2="213.22" y2="237.70" stroke="#000" stroke-width="2.0"/>
<line x1="224.03" y1="414.60" x2="224.03" y2="418.80" stroke="#000" stroke-width="2.0"/>
<line x1="224.03" y1="241.90" x2="224.03" y2="237.70" stroke="#000" stroke-width="2.0"/>
<line x1="232.42" y1="414.60" x2="232.42" y2="418.80" stroke="#000" stroke-width="2.0"/>
<line x1="232.42" y1="241.90" x2="232.42" y2="237.70" stroke="#000" stroke-width="2.0"/>
<line x1="239.27" y1="414.60" x2="239.27" y2="418.80" stroke="#000" stroke-width="2.0"/>
<line x1="239.27" y1="241.90" x2="239.27" y2="237.70" stroke="#000" stroke-width="2.0"/>
<line x1="245.06" y1="414.60" x2="245.06" y2="418.80" stroke="#000" stroke-width="2.0"/>
<line x1="245.06" y1="241.90" x2="245.06" y2="237.70" stroke="#000" stroke-width="2.0"/>
<line x1="250.08" y1="414.60" x2="250.08" y2="418.80" stroke="#000" stroke-width="2.0"/>
<line x1="250.08" y1="241.90" x2="250.08" y2="237.70" stroke="#000" stroke-width="2.0"/>
<line x1="254.51" y1="414.60" x2="254.51" y2="418.80" stroke="#000" stroke-width="2.0"/>
<line x1="254.51" y1="241.90" x2="254.51" y2="237.70" stroke="#000" stroke-width="2.0"/>
<line x1="258.47" y1="414.60" x2="258.47" y2="422.80" stroke="#000" stroke-width="2.0"/>
<line x1="258.47" y1="241.90" x2="258.47" y2="233.70" stroke="#000" stroke-width="2.0"/>
<line x1="284.52" y1="414.60" x2="284.52" y2="418.80" stroke="#000" stroke-width="2.0"/>
<line x1="284.52" y1="241.90" x2="284.52" y2="237.70" stroke="#000" stroke-width="2.0"/>
<line x1="299.75" y1="414.60" x2="299.75" y2="418.80" stroke="#000" stroke-width="2.0"/>
<line x1="299.75" y1="241.90" x2="299.75" y2="237.70" stroke="#000" stroke-width="2.0"/>
<line x1="310.56" y1="414.60" x2="310.56" y2="418.80" stroke="#000" stroke-width="2.0"/>
<line x1="310.56" y1="241.90" x2="310.56" y2="237.70" stroke="#000" stroke-width="2.0"/>
<line x1="318.95" y1="414.60" x2="318.95" y2="418.80" stroke="#000" stroke-width="2.0"/>
<line x1="318.95" y1="241.90" x2="318.95" y2="237.70" stroke="#000" stroke-width="2.0"/>
<line x1="325.80" y1="414.60" x2="325.80" y2="418.80" stroke="#000" stroke-width="2.0"/>
<line x1="325.80" y1="241.90" x2="325.80" y2="237.70" stroke="#000" stroke-width="2.0"/>
<line x1="331.60" y1="414.60" x2="331.60" y2="418.80" stroke="#000" stroke-width="2.0"/>
<line x1="331.60" y1="241.90" x2="331.60" y2="237.70" stroke="#000" stroke-width="2.0"/>
<line x1="336.61" y1="414.60" x2="336.61" y2="418.80" stroke="#000" stroke-width="2.0"/>
<line x1="336.61" y1="241.90" x2="336.61" y2="237.70" stroke="#000" stroke-width="2.0"/>
<line x1="341.04" y1="414.60" x2="341.04" y2="418.80" stroke="#000" stroke-width="2.0"/>
<line x1="341.04" y1="241.90" x2="341.04" y2="237.70" stroke="#000" stroke-width="2.0"/>
<line x1="345.00" y1="414.60" x2="345.00" y2="422.80" stroke="#000" stroke-width="2.0"/>
<line x1="345.00" y1="241.90" x2="345.00" y2="233.70" stroke="#000" stroke-width="2.0"/>
<line x1="85.40" y1="414.60" x2="77.20" y2="414.60" stroke="#000" stroke-width="2.0"/>
<line x1="345.00" y1="414.60" x2="353.20" y2="414.60" stroke="#000" stroke-width="2.0"/>
<line x1="85.40" y1="404.20" x2="81.20" y2="404.20" stroke="#000" stroke-width="2.0"/>
<line x1="345.00" y1="404.20" x2="349.20" y2="404.20" stroke="#000" stroke-width="2.0"/>
<line x1="85.40" y1="398.12" x2="81.20" y2="398.12" stroke="#000" stroke-width="2.0"/>
<line x1="345.00" y1="398.12" x2="349.20" y2="398.12" stroke="#000" stroke-width="2.0"/>
<line x1="85.40" y1="393.80" x2="81.20" y2="393.80" stroke="#000" stroke-width="2.0"/>
<line x1="345.00" y1="393.80" x2="349.20" y2="393.80" stroke="#000" stroke-width="2.0"/>
<line x1="85.40" y1="390.46" x2="81.20" y2="390.46" stroke="#000" stroke-width="2.0"/>
<line x1="345.00" y1="390.46" x2="349.20" y2="390.46" stroke="#000" stroke-width="2.0"/>
<line x1="85.40" y1="387.72" x2="81.20" y2="387.72" stroke="#000" stroke-width="2.0"/>
<line x1="345.00" y1="387.72" x2="349.20" y2="387.72" stroke="#000" stroke-width="2.0"/>
<line x1="85.40" y1="385.41" x2="81.20" y2="385.41" stroke="#000" stroke-width="2.0"/>
<line x1="345.00" y1="385.41" x2="349.20" y2="385.41" stroke="#000" stroke-width="2.0"/>
<line x1="85.40" y1="383.41" x2="81.20" y2="383.41" stroke="#000" stroke-width="2.0"/>
<line x1="345.00" y1="383.41" x2="349.20" y2="383.41" stroke="#000" stroke-width="2.0"/>
<line x1="85.40" y1="381.64" x2="81.20" y2="381.64" stroke="#000" stroke-width="2.0"/>
<line x1="345.00" y1="381.64" x2="349.20" y2="381.64" stroke="#000" stroke-width="2.0"/>
<line x1="85.40" y1="380.06" x2="77.20" y2="380.06" stroke="#000" stroke-width="2.0"/>
<line x1="345.00" y1="380.06" x2="353.20" y2="380.06" stroke="#000" stroke-width="2.0"/>
<line x1="85.40" y1="369.66" x2="81.20" y2="369.66" stroke="#000" stroke-width="2.0"/>
<line x1="345.00" y1="369.66" x2="349.20" y2="369.66" stroke="#000" stroke-width="2.0"/>
<line x1="85.40" y1="363.58" x2="81.20" y2="363.58" stroke="#000" stroke-width="2.0"/>
<line x1="345.00" y1="363.58" x2="349.20" y2="363.58" stroke="#000" stroke-width="2.0"/>
<line x1="85.40" y1="359.26" x2="81.20" y2="359.26" stroke="#000" stroke-width="2.0"/>
<line x1="345.00" y1="359.26" x2="349.20" y2="359.26" stroke="#000" stroke-width="2.0"/>
<line x1="85.40" y1="355.92" x2="81.20" y2="355.92" stroke="#000" stroke-width="2.0"/>
<line x1="345.00" y1="355.92" x2="349.20" y2="355.92" stroke="#000" stroke-width="2.0"/>
<line x1="85.40" y1="353.18" x2="81.20" y2="353.18" stroke="#000" stroke-width="2.0"/>
<line x1="345.00" y1="353.18" x2="349.20" y2="353.18" stroke="#000" stroke-width="2.0"/>
<line x1="85.40" y1="350.87" x2="81.20" y2="350.87" stroke="#000" stroke-width="2.0"/>
<line x1="345.00" y1="350.87" x2="349.20" y2="350.87" stroke="#000" stroke-width="2.0"/>
<line x1="85.40" y1="348.87" x2="81.20" y2="348.87" stroke="#000" stroke-width="2.0"/>
<line x1="345.00" y1="348.87" x2="349.20" y2="348.87" stroke="#000" stroke-width="2.0"/>
<line x1="85.40" y1="347.10" x2="81.20" y2="347.10" stroke="#000" stroke-width="2.0"/>
<line x1="345.00" y1="347.10" x2="349.20" y2="347.10" stroke="#000" stroke-width="2.0"/>
<line x1="85.40" y1="345.52" x2="77.20" y2="345.52" stroke="#000" stroke-width="2.0"/>
<line x1="345.00" y1="345.52" x2="353.20" y2="345.52" stroke="#000" stroke-width="2.0"/>
<line x1="85.40" y1="335.12" x2="81.20" y2="335.12" stroke="#000" stroke-width="2.0"/>
<line x1="345.00" y1="335.12" x2="349.20" y2="335.12" stroke="#000" stroke-width="2.0"/>
<line x1="85.40" y1="329.04" x2="81.20" y2="329.04" stroke="#000" stroke-width="2.0"/>
<line x1="345.00" y1="329.04" x2="349.20" y2="329.04" stroke="#000" stroke-width="2.0"/>
<line x1="85.40" y1="324.72" x2="81.20" y2="324.72" stroke="#000" stroke-width="2.0"/>
<line x1="345.00" y1="324.72" x2="349.20" y2="324.72" stroke="#000" stroke-width="2.0"/>
<line x1="85.40" y1="321.38" x2="81.20" y2="321.38" stroke="#000" stroke-width="2.0"/>
<line x1="345.00" y1="321.38" x2="349.20" y2="321.38" stroke="#000" stroke-width="2.0"/>
<line x1="85.40" y1="318.64" x2="81.20" y2="318.64" stroke="#000" stroke-width="2.0"/>
<line x1="345.00" y1="318.64" x2="349.20" y2="318.64" stroke="#000" stroke-width="2.0"/>
<line x1="85.40" y1="316.33" x2="81.20" y2="316.33" stroke="#000" stroke-width="2.0"/>
<line x1="345.00" y1="316.33" x2="349.20" y2="316.33" stroke="#000" stroke-width="2.0"/>
<line x1="85.40" y1="314.33" x2="81.20" y2="314.33" stroke="#000" stroke-width="2.0"/>
<line x1="345.00" y1="314.33" x2="349.20" y2="314.33" stroke="#000" stroke-width="2.0"/>
<line x1="85.40" y1="312.56" x2="81.20" y2="312.56" stroke="#000" stroke-width="2.0"/>
<line x1="345.00" y1="312.56" x2="349.20" y2="312.56" stroke="#000" stroke-width="2.0"/>
<line x1="85.40" y1="310.98" x2="77.20" y2="310.98" stroke="#000" stroke-width="2.0"/>
<line x1="345.00" y1="310.98" x2="353.20" y2="310.98" stroke="#000" stroke-width="2.0"/>
<line x1="85.40" y1="300.58" x2="81.20" y2="300.58" stroke="#000" stroke-width="2.0"/>
<line x1="345.00" y1="300.58" x2="349.20" y2="300.58" stroke="#000" stroke-width="2.0"/>
<line x1="85.40" y1="294.50" x2="81.20" y2="294.50" stroke="#000" stroke-width="2.0"/>
<line x1="345.00" y1="294.50" x2="349.20" y2="294.50" stroke="#000" stroke-width="2.0"/>
<line x1="85.40" y1="290.18" x2="81.20" y2="290.18" stroke="#000" stroke-width="2.0"/>
<line x1="345.00" y1="290.18" x2="349.20" y2="290.18" stroke="#000" stroke-width="2.0"/>
<line x1="85.40" y1="286.84" x2="81.20" y2="286.84" stroke="#000" stroke-width="2.0"/>
<line x1="345.00" y1="286.84" x2="349.20" y2="286.84" stroke="#000" stroke-width="2.0"/>
<line x1="85.40" y1="284.10" x2="81.20" y2="284.10" stroke="#000" stroke-width="2.0"/>
<line x1="345.00" y1="284.10" x2="349.20" y2="284.10" stroke="#000" stroke-width="2.0"/>
<line x1="85.40" y1="281.79" x2="81.20" y2="281.79" stroke="#000" stroke-width="2.0"/>
<line x1="345.00" y1="281.79" x2="349.20" y2="281.79" stroke="#000" stroke-width="2.0"/>
<line x1="85.40" y1="279.79" x2="81.20" y2="279.79" stroke="#000" stroke-width="2.0"/>
<line x1="345.00" y1="279.79" x2="349.20" y2="279.79" stroke="#000" stroke-width="2.0"/>
<line x1="85.40" y1="278.02" x2="81.20" y2="278.02" stroke="#000" stroke-width="2.0"/>
<line x1="345.00" y1="278.02" x2="349.20" y2="278.02" stroke="#000" stroke-width="2.0"/>
<line x1="85.40" y1="276.44" x2="77.20" y2="276.44" stroke="#000" stroke-width="2.0"/>
<line x1="345.00" y1="276.44" x2="353.20" y2="276.44" stroke="#000" stroke-width="2.0"/>
<line x1="85.40" y1="266.04" x2="81.20" y2="266.04" stroke="#000" stroke-width="2.0"/>
<line x1="345.00" y1="266.04" x2="349.20" y2="266.04" stroke="#000" stroke-width="2.0"/>
<line x1="85.40" y1="259.96" x2="81.20" y2="259.96" stroke="#000" stroke-width="2.0"/>
<line x1="345.00" y1="259.96" x2="349.20" y2="259.96" stroke="#000" stroke-width="2.0"/>
<line x1="85.40" y1="255.64" x2="81.20" y2="255.64" stroke="#000" stroke-width="2.0"/>
<line x1="345.00" y1="255.64" x2="349.20" y2="255.64" stroke="#000" stroke-width="2.0"/>
<line x1="85.40" y1="252.30" x2="81.20" y2="252.30" stroke="#000" stroke-width="2.0"/>
<line x1="345.00" y1="252.30" x2="349.20" y2="252.30" stroke="#000" stroke-width="2.0"/>
<line x1="85.40" y1="249.56" x2="81.20" y2="249.56" stroke="#000" stroke-width="2.0"/>
<line x1="345.00" y1="249.56" x2="349.20" y2="249.56" stroke="#000" stroke-width="2.0"/>
<line x1="85.40" y1="247.25" x2="81.20" y2="247.25" stroke="#000" stroke-width="2.0"/>
<line x1="345.00" y1="247.25" x2="349.20" y2="247.25" stroke="#000" stroke-width="2.0"/>
<line x1="85.40" y1="245.25" x2="81.20" y2="245.25" stroke="#000" stroke-width="2.0"/>
<line x1="345.00" y1="245.25" x2="349.20" y2="245.25" stroke="#000" stroke-width="2.0"/>
<line x1="85.40" y1="243.48" x2="81.20" y2="243.48" stroke="#000" stroke-width="2.0"/>
<line x1="345.00" y1="243.48" x2="349.20" y2="243.48" stroke="#000" stroke-width="2.0"/>
<line x1="85.40" y1="241.90" x2="77.20" y2="241.90" stroke="#000" stroke-width="2.0"/>
<line x1="345.00" y1="241.90" x2="353.20" y2="241.90" stroke="#000" stroke-width="2.0"/>
<rect x="417.10" y="241.90" width="259.30" height="172.70" fill="none" stroke="#000" stroke-width="2.0"/>
<line x1="417.10" y1="414.60" x2="417.10" y2="422.80" stroke="#000" stroke-width="2.0"/>
<line x1="417.10" y1="241.90" x2="417.10" y2="233.70" stroke="#000" stroke-width="2.0"/>
<line x1="443.12" y1="414.60" x2="443.12" y2="418.80" stroke="#000" stroke-width="2.0"/>
<line x1="443.12" y1="241.90" x2="443.12" y2="237.70" stroke="#000" stroke-width="2.0"/>
<line x1="458.34" y1="414.60" x2="458.34" y2="418.80" stroke="#000" stroke-width="2.0"/>
<line x1="458.34" y1="241.90" x2="458.34" y2="237.70" stroke="#000" stroke-width="2.0"/>
<line x1="469.14" y1="414.60" x2="469.14" y2="418.80" stroke="#000" stroke-width="2.0"/>
<line x1="469.14" y1="241.90" x2="469.14" y2="237.70" stroke="#000" stroke-width="2.0"/>
<line x1="477.51" y1="414.60" x2="477.51" y2="418.80" stroke="#000" stroke-width="2.0"/>
<line x1="477.51" y1="241.90" x2="477.51" y2="237.70" stroke="#000" stroke-width="2.0"/>
<line x1="484.36" y1="414.60" x2="484.36" y2="418.80" stroke="#000" stroke-width="2.0"/>
<line x1="484.36" y1="241.90" x2="484.36" y2="237.70" stroke="#000" stroke-width="2.0"/>
<line x1="490.14" y1="414.60" x2="490.14" y2="418.80" stroke="#000" stroke-width="2.0"/>
<line x1="490.14" y1="241.90" x2="490.14" y2="237.70" stroke="#000" stroke-width="2.0"/>
<line x1="495.16" y1="414.60" x2="495.16" y2="418.80" stroke="#000" stroke-width="2.0"/>
<line x1="495.16" y1="241.90" x2="495.16" y2="237.70" stroke="#000" stroke-width="2.0"/>
<line x1="499.58" y1="414.60" x2="499.58" y2="418.80" stroke="#000" stroke-width="2.0"/>
<line x1="499.58" y1="241.90" x2="499.58" y2="237.70" stroke="#000" stroke-width="2.0"/>
<line x1="503.53" y1="414.60" x2="503.53" y2="422.80" stroke="#000" stroke-width="2.0"/>
<line x1="503.53" y1="241.90" x2="503.53" y2="233.70" stroke="#000" stroke-width="2.0"/>
<line x1="529.55" y1="414.60" x2="529.55" y2="418.80" stroke="#000" stroke-width="2.0"/>
<line x1="529.55" y1="241.90" x2="529.55" y2="237.70" stroke="#000" stroke-width="2.0"/>
<line x1="544.77" y1="414.60" x2="544.77" y2="418.80" stroke="#000" stroke-width="2.0"/>
<line x1="544.77" y1="241.90" x2="544.77" y2="237.70" stroke="#000" stroke-width="2.0"/>
<line x1="555.57" y1="414.60" x2="555.57" y2="418.80" stroke="#000" stroke-width="2.0"/>
<line x1="555.57" y1="241.90" x2="555.57" y2="237.70" stroke="#000" stroke-width="2.0"/>
<line x1="563.95" y1="414.60" x2="563.95" y2="418.80" stroke="#000" stroke-width="2.0"/>
<line x1="563.95" y1="241.90" x2="563.95" y2="237.70" stroke="#000" stroke-width="2.0"/>
<line x1="570.79" y1="414.60" x2="570.79" y2="418.80" stroke="#000" stroke-width="2.0"/>
<line x1="570.79" y1="241.90" x2="570.79" y2="237.70" stroke="#000" stroke-width="2.0"/>
<line x1="576.58" y1="414.60" x2="576.58" y2="418.80" stroke="#000" stroke-width="2.0"/>
<line x1="576.58" y1="241.90" x2="576.58" y2="237.70" stroke="#000" stroke-width="2.0"/>
<line x1="581.59" y1="414.60" x2="581.59" y2="418.80" stroke="#000" stroke-width="2.0"/>
<line x1="581.59" y1="241.90" x2="581.59" y2="237.70" stroke="#000" stroke-width="2.0"/>
<line x1="586.01" y1="414.60" x2="586.01" y2="418.80" stroke="#000" stroke-width="2.0"/>
<line x1="586.01" y1="241.90" x2="586.01" y2="237.70" stroke="#000" stroke-width="2.0"/>
<line x1="589.97" y1="414.60" x2="589.97" y2="422.80" stroke="#000" stroke-width="2.0"/>
<line x1="589.97" y1="241.90" x2="589.97" y2="233.70" stroke="#000" stroke-width="2.0"/>
<line x1="615.99" y1="414.60" x2="615.99" y2="418.80" stroke="#000" stroke-width="2.0"/>
<line x1="615.99" y1="241.90" x2="615.99" y2="237.70" stroke="#000" stroke-width="2.0"/>
<line x1="631.21" y1="414.60" x2="631.21" y2="418.80" stroke="#000" stroke-width="2.0"/>
<line x1="631.21" y1="241.90" x2="631.21" y2="237.70" stroke="#000" stroke-width="2.0"/>
<line x1="642.00" y1="414.60" x2="642.00" y2="418.80" stroke="#000" stroke-width="2.0"/>
<line x1="642.00" y1="241.90" x2="642.00" y2="237.70" stroke="#000" stroke-width="2.0"/>
<line x1="650.38" y1="414.60" x2="650.38" y2="418.80" stroke="#000" stroke-width="2.0"/>
<line x1="650.38" y1="241.90" x2="650.38" y2="237.70" stroke="#000" stroke-width="2.0"/>
<line x1="657.22" y1="414.60" x2="657.22" y2="418.80" stroke="#000" stroke-width="2.0"/>
<line x1="657.22" y1="241.90" x2="657.22" y2="237.70" stroke="#000" stroke-width="2.0"/>
<line x1="663.01" y1="414.60" x2="663.01" y2="418.80" stroke="#000" stroke-width="2.0"/>
<line x1="663.01" y1="241.90" x2="663.01" y2="237.70" stroke="#000" stroke-width="2.0"/>
<line x1="668.02" y1="414.60" x2="668.02" y2="418.80" stroke="#000" stroke-width="2.0"/>
<line x1="668.02" y1="241.90" x2="668.02" y2="237.70" stroke="#000" stroke-width="2.0"/>
<line x1="672.45" y1="414.60" x2="672.45" y2="418.80" stroke="#000" stroke-width="2.0"/>
<line x1="672.45" y1="241.90" x2="672.45" y2="237.70" stroke="#000" stroke-width="2.0"/>
<line x1="676.40" y1="414.60" x2="676.40" y2="422.80" stroke="#000" stroke-width="2.0"/>
<line x1="676.40" y1="241.90" x2="676.40" y2="233.70" stroke="#000" stroke-width="2.0"/>
<line x1="417.10" y1="414.60" x2="408.90" y2="414.60" stroke="#000" stroke-width="2.0"/>
<line x1="676.40" y1="414.60" x2="684.60" y2="414.60" stroke="#000" stroke-width="2.0"/>
<line x1="417.10" y1="404.20" x2="412.90" y2="404.20" stroke="#000" stroke-width="2.0"/>
<line x1="676.40" y1="404.20" x2="680.60" y2="404.20" stroke="#000" stroke-width="2.0"/>
<line x1="417.10" y1="398.12" x2="412.90" y2="398.12" stroke="#000" stroke-width="2.0"/>
<line x1="676.40" y1="398.12" x2="680.60" y2="398.12" stroke="#000" stroke-width="2.0"/>
<line x1="417.10" y1="393.80" x2="412.90" y2="393.80" stroke="#000" stroke-width="2.0"/>
<line x1="676.40" y1="393.80" x2="680.60" y2="393.80" stroke="#000" stroke-width="2.0"/>
<line x1="417.10" y1="390.46" x2="412.90" y2="390.46" stroke="#000" stroke-width="2.0"/>
<line x1="676.40" y1="390.46" x2="680.60" y2="390.46" stroke="#000" stroke-width="2.0"/>
<line x1="417.10" y1="387.72" x2="412.90" y2="387.72" stroke="#000" stroke-width="2.0"/>
<line x1="676.40" y1="387.72" x2="680.60" y2="387.72" stroke="#000" stroke-width="2.0"/>
<line x1="417.10" y1="385.41" x2="412.90" y2="385.41" stroke="#000" stroke-width="2.0"/>
<line x1="676.40" y1="385.41" x2="680.60" y2="385.41" stroke="#000" stroke-width="2.0"/>
<line x1="417.10" y1="383.41" x2="412.90" y2="383.41" stroke="#000" stroke-width="2.0"/>
<line x1="676.40" y1="383.41" x2="680.60" y2="383.41" stroke="#000" stroke-width="2.0"/>
<line x1="417.10" y1="381.64" x2="412.90" y2="381.64" stroke="#000" stroke-width="2.0"/>
<line x1="676.40" y1="381.64" x2="680.60" y2="381.64" stroke="#000" stroke-width="2.0"/>
<line x1="417.10" y1="380.06" x2="408.90" y2="380.06" stroke="#000" stroke-width="2.0"/>
<line x1="676.40" y1="380.06" x2="684.60" y2="380.06" stroke="#000" stroke-width="2.0"/>
<line x1="417.10" y1="369.66" x2="412.90" y2="369.66" stroke="#000" stroke-width="2.0"/>
<line x1="676.40" y1="369.66" x2="680.60" y2="369.66" stroke="#000" stroke-width="2.0"/>
<line x1="417.10" y1="363.58" x2="412.90" y2="363.58" stroke="#000" stroke-width="2.0"/>
<line x1="676.40" y1="363.58" x2="680.60" y2="363.58" stroke="#000" stroke-width="2.0"/>
<line x1="417.10" y1="359.26" x2="412.90" y2="359.26" stroke="#000" stroke-width="2.0"/>
<line x1="676.40" y1="359.26" x2="680.60" y2="359.26" stroke="#000" stroke-width="2.0"/>
<line x1="417.10" y1="355.92" x2="412.90" y2="355.92" stroke="#000" stroke-width="2.0"/>
<line x1="676.40" y1="355.92" x2="680.60" y2="355.92" stroke="#000" stroke-width="2.0"/>
<line x1="417.10" y1="353.18" x2="412.90" y2="353.18" stroke="#000" stroke-width="2.0"/>
<line x1="676.40" y1="353.18" x2="680.60" y2="353.18" stroke="#000" stroke-width="2.0"/>
<line x1="417.10" y1="350.87" x2="412.90" y2="350.87" stroke="#000" stroke-width="2.0"/>
<line x1="676.40" y1="350.87" x2="680.60" y2="350.87" stroke="#000" stroke-width="2.0"/>
<line x1="417.10" y1="348.87" x2="412.90" y2="348.87" stroke="#000" stroke-width="2.0"/>
<line x1="676.40" y1="348.87" x2="680.60" y2="348.87" stroke="#000" stroke-width="2.0"/>
<line x1="417.10" y1="347.10" x2="412.90" y2="347.10" stroke="#000" stroke-width="2.0"/>
<line x1="676.40" y1="347.10" x2="680.60" y2="347.10" stroke="#000" stroke-width="2.0"/>
<line x1="417.10" y1="345.52" x2="408.90" y2="345.52" stroke="#000" stroke-width="2.0"/>
<line x1="676.40" y1="345.52" x2="684.60" y2="345.52" stroke="#000" stroke-width="2.0"/>
<line x1="417.10" y1="335.12" x2="412.90" y2="335.12" stroke="#000" stroke-width="2.0"/>
<line x1="676.40" y1="335.12" x2="680.60" y2="335.12" stroke="#000" stroke-width="2.0"/>
<line x1="417.10" y1="329.04" x2="412.90" y2="329.04" stroke="#000" stroke-width="2.0"/>
<line x1="676.40" y1="329.04" x2="680.60" y2="329.04" stroke="#000" stroke-width="2.0"/>
<line x1="417.10" y1="324.72" x2="412.90" y2="324.72" stroke="#000" stroke-width="2.0"/>
<line x1="676.40" y1="324.72" x2="680.60" y2="324.72" stroke="#000" stroke-width="2.0"/>
<line x1="417.10" y1="321.38" x2="412.90" y2="321.38" stroke="#000" stroke-width="2.0"/>
<line x1="676.40" y1="321.38" x2="680.60" y2="321.38" stroke="#000" stroke-width="2.0"/>
<line x1="417.10" y1="318.64" x2="412.90" y2="318.64" stroke="#000" stroke-width="2.0"/>
<line x1="676.40" y1="318.64" x2="680.60" y2="318.64" stroke="#000" stroke-width="2.0"/>
<line x1="417.10" y1="316.33" x2="412.90" y2="316.33" stroke="#000" stroke-width="2.0"/>
<line x1="676.40" y1="316.33" x2="680.60" y2="316.33" stroke="#000" stroke-width="2.0"/>
<line x1="417.10" y1="314.33" x2="412.90" y2="314.33" stroke="#000" stroke-width="2.0"/>
<line x1="676.40" y1="314.33" x2="680.60" y2="314.33" stroke="#000" stroke-width="2.0"/>
<line x1="417.10" y1="312.56" x2="412.90" y2="312.56" stroke="#000" stroke-width="2.0"/>
<line x1="676.40" y1="312.56" x2="680.60" y2="312.56" stroke="#000" stroke-width="2.0"/>
<line x1="417.10" y1="310.98" x2="408.90" y2="310.98" stroke="#000" stroke-width="2.0"/>
<line x1="676.40" y1="310.98" x2="684.60" y2="310.98" stroke="#000" stroke-width="2.0"/>
<line x1="417.10" y1="300.58" x2="412.90" y2="300.58" stroke="#000" stroke-width="2.0"/>
<line x1="676.40" y1="300.58" x2="680.60" y2="300.58" stroke="#000" stroke-width="2.0"/>
<line x1="417.10" y1="294.50" x2="412.90" y2="294.50" stroke="#000" stroke-width="2.0"/>
<line x1="676.40" y1="294.50" x2="680.60" y2="294.50" stroke="#000" stroke-width="2.0"/>
<line x1="417.10" y1="290.18" x2="412.90" y2="290.18" stroke="#000" stroke-width="2.0"/>
<line x1="676.40" y1="290.18" x2="680.60" y2="290.18" stroke="#000" stroke-width="2.0"/>
<line x1="417.10" y1="286.84" x2="412.90" y2="286.84" stroke="#000" stroke-width="2.0"/>
<line x1="676.40" y1="286.84" x2="680.60" y2="286.84" stroke="#000" stroke-width="2.0"/>
<line x1="417.10" y1="284.10" x2="412.90" y2="284.10" stroke="#000" stroke-width="2.0"/>
<line x1="676.40" y1="284.10" x2="680.60" y2="284.10" stroke="#000" stroke-width="2.0"/>
<line x1="417.10" y1="281.79" x2="412.90" y2="281.79" stroke="#000" stroke-width="2.0"/>
<line x1="676.40" y1="281.79" x2="680.60" y2="281.79" stroke="#000" stroke-width="2.0"/>
<line x1="417.10" y1="279.79" x2="412.90" y2="279.79" stroke="#000" stroke-width="2.0"/>
<line x1="676.40" y1="279.79" x2="680.60" y2="279.79" stroke="#000" stroke-width="2.0"/>
<line x1="417.10" y1="278.02" x2="412.90" y2="278.02" stroke="#000" stroke-width="2.0"/>
<line x1="676.40" y1="278.02" x2="680.60" y2="278.02" stroke="#000" stroke-width="2.0"/>
<line x1="417.10" y1="276.44" x2="408.90" y2="276.44" stroke="#000" stroke-width="2.0"/>
<line x1="676.40" y1="276.44" x2="684.60" y2="276.44" stroke="#000" stroke-width="2.0"/>
<line x1="417.10" y1="266.04" x2="412.90" y2="266.04" stroke="#000" stroke-width="2.0"/>
<line x1="676.40" y1="266.04" x2="680.60" y2="266.04" stroke="#000" stroke-width="2.0"/>
<line x1="417.10" y1="259.96" x2="412.90" y2="259.96" stroke="#000" stroke-width="2.0"/>
<line x1="676.40" y1="259.96" x2="680.60" y2="259.96" stroke="#000" stroke-width="2.0"/>
<line x1="417.10" y1="255.64" x2="412.90" y2="255.64" stroke="#000" stroke-width="2.0"/>
<line x1="676.40" y1="255.64" x2="680.60" y2="255.64" stroke="#000" stroke-width="2.0"/>
<line x1="417.10" y1="252.30" x2="412.90" y2="252.30" stroke="#000" stroke-width="2.0"/>
<line x1="676.40" y1="252.30" x2="680.60" y2="252.30" stroke="#000" stroke-width="2.0"/>
<line x1="417.10" y1="249.56" x2="412.90" y2="249.56" stroke="#000" stroke-width="2.0"/>
<line x1="676.40" y1="249.56" x2="680.60" y2="249.56" stroke="#000" stroke-width="2.0"/>
<line x1="417.10" y1="247.25" x2="412.90" y2="247.25" stroke="#000" stroke-width="2.0"/>
<line x1="676.40" y1="247.25" x2="680.60" y2="247.25" stroke="#000" stroke-width="2.0"/>
<line x1="417.10" y1="245.25" x2="412.90" y2="245.25" stroke="#000" stroke-width="2.0"/>
<line x1="676.40" y1="245.25" x2="680.60" y2="245.25" stroke="#000" stroke-width="2.0"/>
<line x1="417.10" y1="243.48" x2="412.90" y2="243.48" stroke="#000" stroke-width="2.0"/>
<line x1="676.40" y1="243.48" x2="680.60" y2="243.48" stroke="#000" stroke-width="2.0"/>
<line x1="417.10" y1="241.90" x2="408.90" y2="241.90" stroke="#000" stroke-width="2.0"/>
<line x1="676.40" y1="241.90" x2="684.60" y2="241.90" stroke="#000" stroke-width="2.0"/>
<text x="71.40" y="219.40" text-anchor="end" style="font-family:'Liberation Serif',serif;font-size:18px">0.01</text>
<text x="71.40" y="184.82" text-anchor="end" style="font-family:'Liberation Serif',serif;font-size:18px">0.1</text>
<text x="71.40" y="150.24" text-anchor="end" style="font-family:'Liberation Serif',serif;font-size:18px">1</text>
<text x="71.40" y="115.66" text-anchor="end" style="font-family:'Liberation Serif',serif;font-size:18px">10</text>
<text x="71.40" y="81.08" text-anchor="end" style="font-family:'Liberation Serif',serif;font-size:18px">100</text>
<text x="71.40" y="46.50" text-anchor="end" style="font-family:'Liberation Serif',serif;font-size:18px">1000</text>
<text x="403.10" y="219.40" text-anchor="end" style="font-family:'Liberation Serif',serif;font-size:18px">0.01</text>
<text x="403.10" y="184.84" text-anchor="end" style="font-family:'Liberation Serif',serif;font-size:18px">0.1</text>
<text x="403.10" y="150.28" text-anchor="end" style="font-family:'Liberation Serif',serif;font-size:18px">1</text>
<text x="403.10" y="115.72" text-anchor="end" style="font-family:'Liberation Serif',serif;font-size:18px">10</text>
<text x="403.10" y="81.16" text-anchor="end" style="font-family:'Liberation Serif',serif;font-size:18px">100</text>
<text x="403.10" y="46.60" text-anchor="end" style="font-family:'Liberation Serif',serif;font-size:18px">1000</text>
<text x="71.40" y="420.60" text-anchor="end" style="font-family:'Liberation Serif',serif;font-size:18px">0.01</text>
<text x="71.40" y="386.06" text-anchor="end" style="font-family:'Liberation Serif',serif;font-size:18px">0.1</text>
<text x="71.40" y="351.52" text-anchor="end" style="font-family:'Liberation Serif',serif;font-size:18px">1</text>
<text x="71.40" y="316.98" text-anchor="end" style="font-family:'Liberation Serif',serif;font-size:18px">10</text>
<text x="71.40" y="282.44" text-anchor="end" style="font-family:'Liberation Serif',serif;font-size:18px">100</text>
<text x="71.40" y="247.90" text-anchor="end" style="font-family:'Liberation Serif',serif;font-size:18px">1000</text>
<text x="85.40" y="443.10" text-anchor="middle" style="font-family:'Liberation Serif',serif;font-size:18px">0.01</text>
<text x="171.93" y="443.10" text-anchor="middle" style="font-family:'Liberation Serif',serif;font-size:18px">0.1</text>
<text x="258.47" y="443.10" text-anchor="middle" style="font-family:'Liberation Serif',serif;font-size:18px">1</text>
<text x="345.00" y="443.10" text-anchor="middle" style="font-family:'Liberation Serif',serif;font-size:18px">10</text>
<text x="403.10" y="420.60" text-anchor="end" style="font-family:'Liberation Serif',serif;font-size:18px">0.01</text>
<text x="403.10" y="386.06" text-anchor="end" style="font-family:'Liberation Serif',serif;font-size:18px">0.1</text>
<text x="403.10" y="351.52" text-anchor="end" style="font-family:'Liberation Serif',serif;font-size:18px">1</text>
<text x="403.10" y="316.98" text-anchor="end" style="font-family:'Liberation Serif',serif;font-size:18px">10</text>
<text x="403.10" y="282.44" text-anchor="end" style="font-family:'Liberation Serif',serif;font-size:18px">100</text>
<text x="403.10" y="247.90" text-anchor="end" style="font-family:'Liberation Serif',serif;font-size:18px">1000</text>
<text x="417.10" y="443.10" text-anchor="middle" style="font-family:'Liberation Serif',serif;font-size:18px">0.01</text>
<text x="503.53" y="443.10" text-anchor="middle" style="font-family:'Liberation Serif',serif;font-size:18px">0.1</text>
<text x="589.97" y="443.10" text-anchor="middle" style="font-family:'Liberation Serif',serif;font-size:18px">1</text>
<text x="676.40" y="443.10" text-anchor="middle" style="font-family:'Liberation Serif',serif;font-size:18px">10</text>
<text x="336.00" y="204.70" text-anchor="end" style="font-family:'Liberation Serif',serif;font-size:20.5px"><tspan style="font-style:italic;font-size:19.3px">A</tspan><tspan dx="-0.6" dy="6.2" style="font-size:14.5px">c</tspan><tspan dy="-6.2">0.02g</tspan></text>
<text x="667.40" y="204.70" text-anchor="end" style="font-family:'Liberation Serif',serif;font-size:20.5px"><tspan style="font-style:italic;font-size:19.3px">A</tspan><tspan dx="-0.6" dy="6.2" style="font-size:14.5px">c</tspan><tspan dy="-6.2">0.05g</tspan></text>
<text x="336.00" y="405.90" text-anchor="end" style="font-family:'Liberation Serif',serif;font-size:20.5px"><tspan style="font-style:italic;font-size:19.3px">A</tspan><tspan dx="-0.6" dy="6.2" style="font-size:14.5px">c</tspan><tspan dy="-6.2">0.1g</tspan></text>
<text x="667.40" y="405.90" text-anchor="end" style="font-family:'Liberation Serif',serif;font-size:20.5px"><tspan style="font-style:italic;font-size:19.3px">A</tspan><tspan dx="-0.6" dy="6.2" style="font-size:14.5px">c</tspan><tspan dy="-6.2">0.2g</tspan></text>
<text transform="translate(15.0,144.5) rotate(-90)" style="font-family:'Liberation Serif',serif;font-size:20px"><tspan style="font-style:italic">D</tspan><tspan dx="1.2" dy="5" style="font-size:14px">n</tspan><tspan dx="0.3" dy="-5">(cm)</tspan></text>
<text transform="translate(21.0,358.0) rotate(-90)" style="font-family:'Liberation Serif',serif;font-size:20px"><tspan style="font-style:italic">D</tspan><tspan dx="0.5" dy="5" style="font-size:14px">n</tspan><tspan dx="-0.7" dy="-5">(cm)</tspan></text>
<text x="215.0" y="476.2" text-anchor="middle" style="font-family:'Liberation Serif',serif;font-size:20px">PGA[g]</text>
<text x="547.0" y="476.2" text-anchor="middle" style="font-family:'Liberation Serif',serif;font-size:20px">PGA[g]</text>
<rect x="227.45" y="73.75" width="7.5" height="7.5" fill="#33fbf8" stroke="#0c3535" stroke-width="1.3"/>
<rect x="232.05" y="69.55" width="7.5" height="7.5" fill="#33fbf8" stroke="#0c3535" stroke-width="1.3"/>
<rect x="232.25" y="80.25" width="7.5" height="7.5" fill="#33fbf8" stroke="#0c3535" stroke-width="1.3"/>
<rect x="105.15" y="187.85" width="7.5" height="7.5" fill="#33fbf8" stroke="#0c3535" stroke-width="1.3"/>
<rect x="109.85" y="187.05" width="7.5" height="7.5" fill="#33fbf8" stroke="#0c3535" stroke-width="1.3"/>
<rect x="116.75" y="182.25" width="7.5" height="7.5" fill="#33fbf8" stroke="#0c3535" stroke-width="1.3"/>
<rect x="123.35" y="173.15" width="7.5" height="7.5" fill="#33fbf8" stroke="#0c3535" stroke-width="1.3"/>
<rect x="111.55" y="159.35" width="7.5" height="7.5" fill="#33fbf8" stroke="#0c3535" stroke-width="1.3"/>
<rect x="129.25" y="156.75" width="7.5" height="7.5" fill="#33fbf8" stroke="#0c3535" stroke-width="1.3"/>
<rect x="133.25" y="148.85" width="7.5" height="7.5" fill="#33fbf8" stroke="#0c3535" stroke-width="1.3"/>
<rect x="123.65" y="121.25" width="7.5" height="7.5" fill="#33fbf8" stroke="#0c3535" stroke-width="1.3"/>
<rect x="126.15" y="127.85" width="7.5" height="7.5" fill="#33fbf8" stroke="#0c3535" stroke-width="1.3"/>
<rect x="147.85" y="133.75" width="7.5" height="7.5" fill="#33fbf8" stroke="#0c3535" stroke-width="1.3"/>
<rect x="153.65" y="133.75" width="7.5" height="7.5" fill="#33fbf8" stroke="#0c3535" stroke-width="1.3"/>
<rect x="163.65" y="137.05" width="7.5" height="7.5" fill="#33fbf8" stroke="#0c3535" stroke-width="1.3"/>
<rect x="163.65" y="140.35" width="7.5" height="7.5" fill="#33fbf8" stroke="#0c3535" stroke-width="1.3"/>
<rect x="152.85" y="147.05" width="7.5" height="7.5" fill="#33fbf8" stroke="#0c3535" stroke-width="1.3"/>
<rect x="114.55" y="145.35" width="7.5" height="7.5" fill="#33fbf8" stroke="#0c3535" stroke-width="1.3"/>
<rect x="132.05" y="147.05" width="7.5" height="7.5" fill="#33fbf8" stroke="#0c3535" stroke-width="1.3"/>
<rect x="127.85" y="142.05" width="7.5" height="7.5" fill="#33fbf8" stroke="#0c3535" stroke-width="1.3"/>
<rect x="128.65" y="156.15" width="7.5" height="7.5" fill="#33fbf8" stroke="#0c3535" stroke-width="1.3"/>
<rect x="117.05" y="181.95" width="7.5" height="7.5" fill="#33fbf8" stroke="#0c3535" stroke-width="1.3"/>
<rect x="166.15" y="116.25" width="7.5" height="7.5" fill="#33fbf8" stroke="#0c3535" stroke-width="1.3"/>
<rect x="171.95" y="117.05" width="7.5" height="7.5" fill="#33fbf8" stroke="#0c3535" stroke-width="1.3"/>
<rect x="181.95" y="111.25" width="7.5" height="7.5" fill="#33fbf8" stroke="#0c3535" stroke-width="1.3"/>
<rect x="153.65" y="126.25" width="7.5" height="7.5" fill="#33fbf8" stroke="#0c3535" stroke-width="1.3"/>
<rect x="149.45" y="122.85" width="7.5" height="7.5" fill="#33fbf8" stroke="#0c3535" stroke-width="1.3"/>
<rect x="151.95" y="93.65" width="7.5" height="7.5" fill="#33fbf8" stroke="#0c3535" stroke-width="1.3"/>
<rect x="161.15" y="90.25" width="7.5" height="7.5" fill="#33fbf8" stroke="#0c3535" stroke-width="1.3"/>
<rect x="167.75" y="111.95" width="7.5" height="7.5" fill="#33fbf8" stroke="#0c3535" stroke-width="1.3"/>
<rect x="179.45" y="111.95" width="7.5" height="7.5" fill="#33fbf8" stroke="#0c3535" stroke-width="1.3"/>
<rect x="186.05" y="102.85" width="7.5" height="7.5" fill="#33fbf8" stroke="#0c3535" stroke-width="1.3"/>
<rect x="191.05" y="89.45" width="7.5" height="7.5" fill="#33fbf8" stroke="#0c3535" stroke-width="1.3"/>
<rect x="196.05" y="107.75" width="7.5" height="7.5" fill="#33fbf8" stroke="#0c3535" stroke-width="1.3"/>
<rect x="268.55" y="58.75" width="7.5" height="7.5" fill="#33fbf8" stroke="#0c3535" stroke-width="1.3"/>
<rect x="251.95" y="69.55" width="7.5" height="7.5" fill="#33fbf8" stroke="#0c3535" stroke-width="1.3"/>
<rect x="236.15" y="69.55" width="7.5" height="7.5" fill="#33fbf8" stroke="#0c3535" stroke-width="1.3"/>
<rect x="231.95" y="79.55" width="7.5" height="7.5" fill="#33fbf8" stroke="#0c3535" stroke-width="1.3"/>
<rect x="241.95" y="77.05" width="7.5" height="7.5" fill="#33fbf8" stroke="#0c3535" stroke-width="1.3"/>
<rect x="244.45" y="89.45" width="7.5" height="7.5" fill="#33fbf8" stroke="#0c3535" stroke-width="1.3"/>
<rect x="217.05" y="89.45" width="7.5" height="7.5" fill="#33fbf8" stroke="#0c3535" stroke-width="1.3"/>
<rect x="215.35" y="91.15" width="7.5" height="7.5" fill="#33fbf8" stroke="#0c3535" stroke-width="1.3"/>
<rect x="213.65" y="104.45" width="7.5" height="7.5" fill="#33fbf8" stroke="#0c3535" stroke-width="1.3"/>
<rect x="210.35" y="106.95" width="7.5" height="7.5" fill="#33fbf8" stroke="#0c3535" stroke-width="1.3"/>
<rect x="204.55" y="106.15" width="7.5" height="7.5" fill="#33fbf8" stroke="#0c3535" stroke-width="1.3"/>
<rect x="199.55" y="109.45" width="7.5" height="7.5" fill="#33fbf8" stroke="#0c3535" stroke-width="1.3"/>
<rect x="187.85" y="102.85" width="7.5" height="7.5" fill="#33fbf8" stroke="#0c3535" stroke-width="1.3"/>
<rect x="182.05" y="110.25" width="7.5" height="7.5" fill="#33fbf8" stroke="#0c3535" stroke-width="1.3"/>
<rect x="226.95" y="71.25" width="7.5" height="7.5" fill="#33fbf8" stroke="#0c3535" stroke-width="1.3"/>
<rect x="201.25" y="77.05" width="7.5" height="7.5" fill="#33fbf8" stroke="#0c3535" stroke-width="1.3"/>
<rect x="204.55" y="86.95" width="7.5" height="7.5" fill="#33fbf8" stroke="#0c3535" stroke-width="1.3"/>
<rect x="191.25" y="87.85" width="7.5" height="7.5" fill="#33fbf8" stroke="#0c3535" stroke-width="1.3"/>
<rect x="214.55" y="81.25" width="7.5" height="7.5" fill="#33fbf8" stroke="#0c3535" stroke-width="1.3"/>
<rect x="198.75" y="108.75" width="7.5" height="7.5" fill="#33fbf8" stroke="#0c3535" stroke-width="1.3"/>
<rect x="212.05" y="107.05" width="7.5" height="7.5" fill="#33fbf8" stroke="#0c3535" stroke-width="1.3"/>
<rect x="112.85" y="144.75" width="7.5" height="7.5" fill="#33fbf8" stroke="#0c3535" stroke-width="1.3"/>
<rect x="129.05" y="141.65" width="7.5" height="7.5" fill="#33fbf8" stroke="#0c3535" stroke-width="1.3"/>
<rect x="132.65" y="147.25" width="7.5" height="7.5" fill="#33fbf8" stroke="#0c3535" stroke-width="1.3"/>
<rect x="150.25" y="126.65" width="7.5" height="7.5" fill="#33fbf8" stroke="#0c3535" stroke-width="1.3"/>
<rect x="112.85" y="145.35" width="7.5" height="7.5" fill="#33fbf8" stroke="#0c3535" stroke-width="1.3"/>
<rect x="110.25" y="158.85" width="7.5" height="7.5" fill="#33fbf8" stroke="#0c3535" stroke-width="1.3"/>
<rect x="127.45" y="155.75" width="7.5" height="7.5" fill="#33fbf8" stroke="#0c3535" stroke-width="1.3"/>
<circle cx="101.8" cy="178.8" r="4.2" fill="#fb2f95" stroke="#2a0515" stroke-width="1.4"/>
<circle cx="122.5" cy="193.9" r="4.2" fill="#fb2f95" stroke="#2a0515" stroke-width="1.4"/>
<circle cx="115.7" cy="205.7" r="4.2" fill="#fb2f95" stroke="#2a0515" stroke-width="1.4"/>
<circle cx="116.6" cy="176.9" r="4.2" fill="#fb2f95" stroke="#2a0515" stroke-width="1.4"/>
<circle cx="120.5" cy="168.3" r="4.2" fill="#fb2f95" stroke="#2a0515" stroke-width="1.4"/>
<circle cx="130.4" cy="167.7" r="4.2" fill="#fb2f95" stroke="#2a0515" stroke-width="1.4"/>
<circle cx="118.6" cy="155.9" r="4.2" fill="#fb2f95" stroke="#2a0515" stroke-width="1.4"/>
<circle cx="124.5" cy="159.2" r="4.2" fill="#fb2f95" stroke="#2a0515" stroke-width="1.4"/>
<circle cx="123.8" cy="150.7" r="4.2" fill="#fb2f95" stroke="#2a0515" stroke-width="1.4"/>
<circle cx="129.9" cy="140.0" r="4.2" fill="#fb2f95" stroke="#2a0515" stroke-width="1.4"/>
<circle cx="139.9" cy="141.6" r="4.2" fill="#fb2f95" stroke="#2a0515" stroke-width="1.4"/>
<circle cx="139.1" cy="130.0" r="4.2" fill="#fb2f95" stroke="#2a0515" stroke-width="1.4"/>
<circle cx="134.9" cy="133.3" r="4.2" fill="#fb2f95" stroke="#2a0515" stroke-width="1.4"/>
<circle cx="141.6" cy="116.7" r="4.2" fill="#fb2f95" stroke="#2a0515" stroke-width="1.4"/>
<circle cx="134.9" cy="120.0" r="4.2" fill="#fb2f95" stroke="#2a0515" stroke-width="1.4"/>
<circle cx="132.4" cy="111.7" r="4.2" fill="#fb2f95" stroke="#2a0515" stroke-width="1.4"/>
<circle cx="150.7" cy="119.2" r="4.2" fill="#fb2f95" stroke="#2a0515" stroke-width="1.4"/>
<circle cx="156.6" cy="111.7" r="4.2" fill="#fb2f95" stroke="#2a0515" stroke-width="1.4"/>
<circle cx="161.5" cy="118.3" r="4.2" fill="#fb2f95" stroke="#2a0515" stroke-width="1.4"/>
<circle cx="180.7" cy="112.5" r="4.2" fill="#fb2f95" stroke="#2a0515" stroke-width="1.4"/>
<circle cx="174.0" cy="135.0" r="4.2" fill="#fb2f95" stroke="#2a0515" stroke-width="1.4"/>
<circle cx="144.9" cy="126.6" r="4.2" fill="#fb2f95" stroke="#2a0515" stroke-width="1.4"/>
<circle cx="149.1" cy="107.4" r="4.2" fill="#fb2f95" stroke="#2a0515" stroke-width="1.4"/>
<circle cx="158.2" cy="100.7" r="4.2" fill="#fb2f95" stroke="#2a0515" stroke-width="1.4"/>
<circle cx="162.4" cy="108.2" r="4.2" fill="#fb2f95" stroke="#2a0515" stroke-width="1.4"/>
<circle cx="164.0" cy="99.0" r="4.2" fill="#fb2f95" stroke="#2a0515" stroke-width="1.4"/>
<circle cx="169.9" cy="101.6" r="4.2" fill="#fb2f95" stroke="#2a0515" stroke-width="1.4"/>
<circle cx="173.2" cy="88.3" r="4.2" fill="#fb2f95" stroke="#2a0515" stroke-width="1.4"/>
<circle cx="177.4" cy="93.2" r="4.2" fill="#fb2f95" stroke="#2a0515" stroke-width="1.4"/>
<circle cx="179.9" cy="84.1" r="4.2" fill="#fb2f95" stroke="#2a0515" stroke-width="1.4"/>
<circle cx="184.0" cy="81.6" r="4.2" fill="#fb2f95" stroke="#2a0515" stroke-width="1.4"/>
<circle cx="179.9" cy="99.9" r="4.2" fill="#fb2f95" stroke="#2a0515" stroke-width="1.4"/>
<circle cx="190.7" cy="102.4" r="4.2" fill="#fb2f95" stroke="#2a0515" stroke-width="1.4"/>
<circle cx="191.5" cy="82.4" r="4.2" fill="#fb2f95" stroke="#2a0515" stroke-width="1.4"/>
<circle cx="196.5" cy="75.8" r="4.2" fill="#fb2f95" stroke="#2a0515" stroke-width="1.4"/>
<circle cx="193.2" cy="86.6" r="4.2" fill="#fb2f95" stroke="#2a0515" stroke-width="1.4"/>
<circle cx="166.5" cy="96.6" r="4.2" fill="#fb2f95" stroke="#2a0515" stroke-width="1.4"/>
<circle cx="205.8" cy="48.3" r="4.2" fill="#fb2f95" stroke="#2a0515" stroke-width="1.4"/>
<circle cx="239.1" cy="60.0" r="4.2" fill="#fb2f95" stroke="#2a0515" stroke-width="1.4"/>
<circle cx="230.7" cy="63.3" r="4.2" fill="#fb2f95" stroke="#2a0515" stroke-width="1.4"/>
<circle cx="227.4" cy="67.5" r="4.2" fill="#fb2f95" stroke="#2a0515" stroke-width="1.4"/>
<circle cx="248.2" cy="72.4" r="4.2" fill="#fb2f95" stroke="#2a0515" stroke-width="1.4"/>
<circle cx="254.9" cy="74.9" r="4.2" fill="#fb2f95" stroke="#2a0515" stroke-width="1.4"/>
<circle cx="216.6" cy="70.8" r="4.2" fill="#fb2f95" stroke="#2a0515" stroke-width="1.4"/>
<circle cx="210.8" cy="72.4" r="4.2" fill="#fb2f95" stroke="#2a0515" stroke-width="1.4"/>
<circle cx="210.0" cy="76.6" r="4.2" fill="#fb2f95" stroke="#2a0515" stroke-width="1.4"/>
<circle cx="217.4" cy="80.0" r="4.2" fill="#fb2f95" stroke="#2a0515" stroke-width="1.4"/>
<circle cx="224.9" cy="80.0" r="4.2" fill="#fb2f95" stroke="#2a0515" stroke-width="1.4"/>
<circle cx="224.9" cy="75.8" r="4.2" fill="#fb2f95" stroke="#2a0515" stroke-width="1.4"/>
<circle cx="200.8" cy="75.8" r="4.2" fill="#fb2f95" stroke="#2a0515" stroke-width="1.4"/>
<circle cx="195.8" cy="74.9" r="4.2" fill="#fb2f95" stroke="#2a0515" stroke-width="1.4"/>
<circle cx="190.8" cy="82.4" r="4.2" fill="#fb2f95" stroke="#2a0515" stroke-width="1.4"/>
<circle cx="183.3" cy="83.3" r="4.2" fill="#fb2f95" stroke="#2a0515" stroke-width="1.4"/>
<circle cx="180.0" cy="90.0" r="4.2" fill="#fb2f95" stroke="#2a0515" stroke-width="1.4"/>
<circle cx="206.6" cy="88.3" r="4.2" fill="#fb2f95" stroke="#2a0515" stroke-width="1.4"/>
<circle cx="204.1" cy="116.5" r="4.2" fill="#fb2f95" stroke="#2a0515" stroke-width="1.4"/>
<circle cx="196.6" cy="78.3" r="4.2" fill="#fb2f95" stroke="#2a0515" stroke-width="1.4"/>
<circle cx="141.6" cy="116.2" r="4.2" fill="#fb2f95" stroke="#2a0515" stroke-width="1.4"/>
<circle cx="151.0" cy="118.8" r="4.2" fill="#fb2f95" stroke="#2a0515" stroke-width="1.4"/>
<circle cx="134.3" cy="118.3" r="4.2" fill="#fb2f95" stroke="#2a0515" stroke-width="1.4"/>
<circle cx="139.5" cy="130.3" r="4.2" fill="#fb2f95" stroke="#2a0515" stroke-width="1.4"/>
<circle cx="135.4" cy="133.4" r="4.2" fill="#fb2f95" stroke="#2a0515" stroke-width="1.4"/>
<circle cx="130.2" cy="139.1" r="4.2" fill="#fb2f95" stroke="#2a0515" stroke-width="1.4"/>
<circle cx="140.6" cy="142.2" r="4.2" fill="#fb2f95" stroke="#2a0515" stroke-width="1.4"/>
<circle cx="124.4" cy="149.0" r="4.2" fill="#fb2f95" stroke="#2a0515" stroke-width="1.4"/>
<circle cx="118.7" cy="154.7" r="4.2" fill="#fb2f95" stroke="#2a0515" stroke-width="1.4"/>
<circle cx="132.5" cy="111.6" r="4.2" fill="#fb2f95" stroke="#2a0515" stroke-width="1.4"/>
<circle cx="140.8" cy="116.6" r="4.2" fill="#fb2f95" stroke="#2a0515" stroke-width="1.4"/>
<circle cx="135.0" cy="120.7" r="4.2" fill="#fb2f95" stroke="#2a0515" stroke-width="1.4"/>
<circle cx="140.0" cy="129.0" r="4.2" fill="#fb2f95" stroke="#2a0515" stroke-width="1.4"/>
<circle cx="130.0" cy="138.2" r="4.2" fill="#fb2f95" stroke="#2a0515" stroke-width="1.4"/>
<circle cx="149.1" cy="107.4" r="4.2" fill="#fb2f95" stroke="#2a0515" stroke-width="1.4"/>
<circle cx="150.8" cy="118.2" r="4.2" fill="#fb2f95" stroke="#2a0515" stroke-width="1.4"/>
<circle cx="146.6" cy="123.2" r="4.2" fill="#fb2f95" stroke="#2a0515" stroke-width="1.4"/>
<circle cx="157.4" cy="100.8" r="4.2" fill="#fb2f95" stroke="#2a0515" stroke-width="1.4"/>
<circle cx="155.8" cy="111.6" r="4.2" fill="#fb2f95" stroke="#2a0515" stroke-width="1.4"/>
<circle cx="162.4" cy="109.1" r="4.2" fill="#fb2f95" stroke="#2a0515" stroke-width="1.4"/>
<circle cx="164.1" cy="99.1" r="4.2" fill="#fb2f95" stroke="#2a0515" stroke-width="1.4"/>
<circle cx="169.9" cy="100.8" r="4.2" fill="#fb2f95" stroke="#2a0515" stroke-width="1.4"/>
<circle cx="173.2" cy="88.3" r="4.2" fill="#fb2f95" stroke="#2a0515" stroke-width="1.4"/>
<circle cx="179.1" cy="84.1" r="4.2" fill="#fb2f95" stroke="#2a0515" stroke-width="1.4"/>
<circle cx="177.4" cy="99.9" r="4.2" fill="#fb2f95" stroke="#2a0515" stroke-width="1.4"/>
<circle cx="179.9" cy="93.3" r="4.2" fill="#fb2f95" stroke="#2a0515" stroke-width="1.4"/>
<circle cx="184.1" cy="81.6" r="4.2" fill="#fb2f95" stroke="#2a0515" stroke-width="1.4"/>
<circle cx="191.5" cy="82.5" r="4.2" fill="#fb2f95" stroke="#2a0515" stroke-width="1.4"/>
<circle cx="196.5" cy="75.8" r="4.2" fill="#fb2f95" stroke="#2a0515" stroke-width="1.4"/>
<circle cx="201.5" cy="76.6" r="4.2" fill="#fb2f95" stroke="#2a0515" stroke-width="1.4"/>
<circle cx="210.7" cy="75.8" r="4.2" fill="#fb2f95" stroke="#2a0515" stroke-width="1.4"/>
<circle cx="216.5" cy="70.8" r="4.2" fill="#fb2f95" stroke="#2a0515" stroke-width="1.4"/>
<circle cx="206.5" cy="88.3" r="4.2" fill="#fb2f95" stroke="#2a0515" stroke-width="1.4"/>
<circle cx="190.7" cy="102.4" r="4.2" fill="#fb2f95" stroke="#2a0515" stroke-width="1.4"/>
<circle cx="180.7" cy="113.2" r="4.2" fill="#fb2f95" stroke="#2a0515" stroke-width="1.4"/>
<circle cx="204.0" cy="117.4" r="4.2" fill="#fb2f95" stroke="#2a0515" stroke-width="1.4"/>
<circle cx="174.1" cy="134.9" r="4.2" fill="#fb2f95" stroke="#2a0515" stroke-width="1.4"/>
<circle cx="169.9" cy="91.6" r="4.2" fill="#fb2f95" stroke="#2a0515" stroke-width="1.4"/>
<circle cx="160.0" cy="115.7" r="4.2" fill="#fb2f95" stroke="#2a0515" stroke-width="1.4"/>
<circle cx="174.9" cy="94.1" r="4.2" fill="#fb2f95" stroke="#2a0515" stroke-width="1.4"/>
<circle cx="185.7" cy="89.1" r="4.2" fill="#fb2f95" stroke="#2a0515" stroke-width="1.4"/>
<circle cx="164.9" cy="104.9" r="4.2" fill="#fb2f95" stroke="#2a0515" stroke-width="1.4"/>
<circle cx="153.3" cy="104.9" r="4.2" fill="#fb2f95" stroke="#2a0515" stroke-width="1.4"/>
<circle cx="133.3" cy="121.6" r="4.2" fill="#fb2f95" stroke="#2a0515" stroke-width="1.4"/>
<circle cx="139.5" cy="129.9" r="4.2" fill="#fb2f95" stroke="#2a0515" stroke-width="1.4"/>
<circle cx="135.4" cy="133.5" r="4.2" fill="#fb2f95" stroke="#2a0515" stroke-width="1.4"/>
<circle cx="130.2" cy="139.8" r="4.2" fill="#fb2f95" stroke="#2a0515" stroke-width="1.4"/>
<circle cx="140.6" cy="141.8" r="4.2" fill="#fb2f95" stroke="#2a0515" stroke-width="1.4"/>
<circle cx="124.4" cy="148.6" r="4.2" fill="#fb2f95" stroke="#2a0515" stroke-width="1.4"/>
<circle cx="118.7" cy="155.9" r="4.2" fill="#fb2f95" stroke="#2a0515" stroke-width="1.4"/>
<circle cx="124.4" cy="159.0" r="4.2" fill="#fb2f95" stroke="#2a0515" stroke-width="1.4"/>
<circle cx="120.3" cy="166.8" r="4.2" fill="#fb2f95" stroke="#2a0515" stroke-width="1.4"/>
<circle cx="130.7" cy="166.8" r="4.2" fill="#fb2f95" stroke="#2a0515" stroke-width="1.4"/>
<circle cx="147.8" cy="121.0" r="4.2" fill="#fb2f95" stroke="#2a0515" stroke-width="1.4"/>
<circle cx="152.0" cy="122.0" r="4.2" fill="#fb2f95" stroke="#2a0515" stroke-width="1.4"/>
<circle cx="136.4" cy="118.6" r="4.2" fill="#fb2f95" stroke="#2a0515" stroke-width="1.4"/>
<circle cx="141.0" cy="116.3" r="4.2" fill="#fb2f95" stroke="#2a0515" stroke-width="1.4"/>
<circle cx="149.6" cy="107.1" r="4.2" fill="#fb2f95" stroke="#2a0515" stroke-width="1.4"/>
<circle cx="151.3" cy="118.6" r="4.2" fill="#fb2f95" stroke="#2a0515" stroke-width="1.4"/>
<circle cx="155.9" cy="110.6" r="4.2" fill="#fb2f95" stroke="#2a0515" stroke-width="1.4"/>
<circle cx="158.1" cy="100.3" r="4.2" fill="#fb2f95" stroke="#2a0515" stroke-width="1.4"/>
<circle cx="162.7" cy="108.3" r="4.2" fill="#fb2f95" stroke="#2a0515" stroke-width="1.4"/>
<circle cx="159.3" cy="118.6" r="4.2" fill="#fb2f95" stroke="#2a0515" stroke-width="1.4"/>
<circle cx="169.6" cy="101.4" r="4.2" fill="#fb2f95" stroke="#2a0515" stroke-width="1.4"/>
<circle cx="175.3" cy="99.1" r="4.2" fill="#fb2f95" stroke="#2a0515" stroke-width="1.4"/>
<circle cx="139.9" cy="128.9" r="4.2" fill="#fb2f95" stroke="#2a0515" stroke-width="1.4"/>
<circle cx="129.6" cy="138.0" r="4.2" fill="#fb2f95" stroke="#2a0515" stroke-width="1.4"/>
<circle cx="143.3" cy="124.3" r="4.2" fill="#fb2f95" stroke="#2a0515" stroke-width="1.4"/>
<circle cx="147.9" cy="123.1" r="4.2" fill="#fb2f95" stroke="#2a0515" stroke-width="1.4"/>
<circle cx="153.6" cy="122.0" r="4.2" fill="#fb2f95" stroke="#2a0515" stroke-width="1.4"/>
<circle cx="138.7" cy="138.0" r="4.2" fill="#fb2f95" stroke="#2a0515" stroke-width="1.4"/>
<rect x="479.95" y="146.65" width="7.5" height="7.5" fill="#33fbf8" stroke="#0c3535" stroke-width="1.3"/>
<rect x="485.35" y="139.05" width="7.5" height="7.5" fill="#33fbf8" stroke="#0c3535" stroke-width="1.3"/>
<rect x="507.25" y="126.95" width="7.5" height="7.5" fill="#33fbf8" stroke="#0c3535" stroke-width="1.3"/>
<rect x="567.75" y="72.85" width="7.5" height="7.5" fill="#33fbf8" stroke="#0c3535" stroke-width="1.3"/>
<rect x="564.45" y="72.05" width="7.5" height="7.5" fill="#33fbf8" stroke="#0c3535" stroke-width="1.3"/>
<rect x="583.55" y="70.35" width="7.5" height="7.5" fill="#33fbf8" stroke="#0c3535" stroke-width="1.3"/>
<rect x="561.15" y="77.85" width="7.5" height="7.5" fill="#33fbf8" stroke="#0c3535" stroke-width="1.3"/>
<rect x="564.45" y="86.15" width="7.5" height="7.5" fill="#33fbf8" stroke="#0c3535" stroke-width="1.3"/>
<rect x="571.15" y="81.15" width="7.5" height="7.5" fill="#33fbf8" stroke="#0c3535" stroke-width="1.3"/>
<rect x="576.95" y="95.35" width="7.5" height="7.5" fill="#33fbf8" stroke="#0c3535" stroke-width="1.3"/>
<rect x="546.95" y="89.45" width="7.5" height="7.5" fill="#33fbf8" stroke="#0c3535" stroke-width="1.3"/>
<rect x="548.65" y="98.65" width="7.5" height="7.5" fill="#33fbf8" stroke="#0c3535" stroke-width="1.3"/>
<rect x="543.65" y="109.45" width="7.5" height="7.5" fill="#33fbf8" stroke="#0c3535" stroke-width="1.3"/>
<rect x="539.45" y="111.95" width="7.5" height="7.5" fill="#33fbf8" stroke="#0c3535" stroke-width="1.3"/>
<rect x="530.35" y="92.85" width="7.5" height="7.5" fill="#33fbf8" stroke="#0c3535" stroke-width="1.3"/>
<rect x="532.85" y="86.15" width="7.5" height="7.5" fill="#33fbf8" stroke="#0c3535" stroke-width="1.3"/>
<rect x="519.55" y="107.75" width="7.5" height="7.5" fill="#33fbf8" stroke="#0c3535" stroke-width="1.3"/>
<rect x="509.55" y="92.85" width="7.5" height="7.5" fill="#33fbf8" stroke="#0c3535" stroke-width="1.3"/>
<rect x="530.35" y="115.25" width="7.5" height="7.5" fill="#33fbf8" stroke="#0c3535" stroke-width="1.3"/>
<rect x="599.65" y="59.15" width="7.5" height="7.5" fill="#33fbf8" stroke="#0c3535" stroke-width="1.3"/>
<rect x="483.65" y="114.55" width="7.5" height="7.5" fill="#33fbf8" stroke="#0c3535" stroke-width="1.3"/>
<rect x="479.45" y="146.15" width="7.5" height="7.5" fill="#33fbf8" stroke="#0c3535" stroke-width="1.3"/>
<rect x="486.15" y="138.65" width="7.5" height="7.5" fill="#33fbf8" stroke="#0c3535" stroke-width="1.3"/>
<rect x="495.35" y="160.35" width="7.5" height="7.5" fill="#33fbf8" stroke="#0c3535" stroke-width="1.3"/>
<rect x="495.35" y="164.45" width="7.5" height="7.5" fill="#33fbf8" stroke="#0c3535" stroke-width="1.3"/>
<rect x="506.95" y="127.05" width="7.5" height="7.5" fill="#33fbf8" stroke="#0c3535" stroke-width="1.3"/>
<rect x="512.75" y="129.55" width="7.5" height="7.5" fill="#33fbf8" stroke="#0c3535" stroke-width="1.3"/>
<rect x="518.65" y="107.85" width="7.5" height="7.5" fill="#33fbf8" stroke="#0c3535" stroke-width="1.3"/>
<rect x="521.05" y="112.05" width="7.5" height="7.5" fill="#33fbf8" stroke="#0c3535" stroke-width="1.3"/>
<rect x="530.25" y="117.85" width="7.5" height="7.5" fill="#33fbf8" stroke="#0c3535" stroke-width="1.3"/>
<rect x="534.45" y="121.25" width="7.5" height="7.5" fill="#33fbf8" stroke="#0c3535" stroke-width="1.3"/>
<rect x="480.35" y="173.65" width="7.5" height="7.5" fill="#33fbf8" stroke="#0c3535" stroke-width="1.3"/>
<rect x="484.45" y="167.75" width="7.5" height="7.5" fill="#33fbf8" stroke="#0c3535" stroke-width="1.3"/>
<rect x="479.65" y="176.65" width="7.5" height="7.5" fill="#33fbf8" stroke="#0c3535" stroke-width="1.3"/>
<rect x="480.25" y="186.75" width="7.5" height="7.5" fill="#33fbf8" stroke="#0c3535" stroke-width="1.3"/>
<rect x="495.85" y="159.75" width="7.5" height="7.5" fill="#33fbf8" stroke="#0c3535" stroke-width="1.3"/>
<rect x="495.85" y="163.85" width="7.5" height="7.5" fill="#33fbf8" stroke="#0c3535" stroke-width="1.3"/>
<rect x="479.65" y="147.65" width="7.5" height="7.5" fill="#33fbf8" stroke="#0c3535" stroke-width="1.3"/>
<rect x="483.75" y="114.25" width="7.5" height="7.5" fill="#33fbf8" stroke="#0c3535" stroke-width="1.3"/>
<rect x="509.95" y="92.45" width="7.5" height="7.5" fill="#33fbf8" stroke="#0c3535" stroke-width="1.3"/>
<rect x="518.65" y="107.45" width="7.5" height="7.5" fill="#33fbf8" stroke="#0c3535" stroke-width="1.3"/>
<rect x="516.15" y="113.65" width="7.5" height="7.5" fill="#33fbf8" stroke="#0c3535" stroke-width="1.3"/>
<rect x="544.25" y="110.25" width="7.5" height="7.5" fill="#33fbf8" stroke="#0c3535" stroke-width="1.3"/>
<rect x="545.95" y="109.05" width="7.5" height="7.5" fill="#33fbf8" stroke="#0c3535" stroke-width="1.3"/>
<rect x="530.75" y="117.25" width="7.5" height="7.5" fill="#33fbf8" stroke="#0c3535" stroke-width="1.3"/>
<rect x="536.65" y="120.75" width="7.5" height="7.5" fill="#33fbf8" stroke="#0c3535" stroke-width="1.3"/>
<rect x="547.75" y="98.55" width="7.5" height="7.5" fill="#33fbf8" stroke="#0c3535" stroke-width="1.3"/>
<rect x="519.05" y="109.05" width="7.5" height="7.5" fill="#33fbf8" stroke="#0c3535" stroke-width="1.3"/>
<rect x="520.25" y="111.45" width="7.5" height="7.5" fill="#33fbf8" stroke="#0c3535" stroke-width="1.3"/>
<circle cx="537.4" cy="57.5" r="4.2" fill="#fb2f95" stroke="#2a0515" stroke-width="1.4"/>
<circle cx="562.4" cy="67.5" r="4.2" fill="#fb2f95" stroke="#2a0515" stroke-width="1.4"/>
<circle cx="570.7" cy="65.8" r="4.2" fill="#fb2f95" stroke="#2a0515" stroke-width="1.4"/>
<circle cx="559.0" cy="74.1" r="4.2" fill="#fb2f95" stroke="#2a0515" stroke-width="1.4"/>
<circle cx="543.2" cy="79.9" r="4.2" fill="#fb2f95" stroke="#2a0515" stroke-width="1.4"/>
<circle cx="548.2" cy="79.1" r="4.2" fill="#fb2f95" stroke="#2a0515" stroke-width="1.4"/>
<circle cx="540.7" cy="83.3" r="4.2" fill="#fb2f95" stroke="#2a0515" stroke-width="1.4"/>
<circle cx="554.9" cy="84.1" r="4.2" fill="#fb2f95" stroke="#2a0515" stroke-width="1.4"/>
<circle cx="558.2" cy="86.6" r="4.2" fill="#fb2f95" stroke="#2a0515" stroke-width="1.4"/>
<circle cx="547.4" cy="85.8" r="4.2" fill="#fb2f95" stroke="#2a0515" stroke-width="1.4"/>
<circle cx="543.2" cy="89.9" r="4.2" fill="#fb2f95" stroke="#2a0515" stroke-width="1.4"/>
<circle cx="580.7" cy="79.1" r="4.2" fill="#fb2f95" stroke="#2a0515" stroke-width="1.4"/>
<circle cx="586.5" cy="78.3" r="4.2" fill="#fb2f95" stroke="#2a0515" stroke-width="1.4"/>
<circle cx="523.3" cy="88.3" r="4.2" fill="#fb2f95" stroke="#2a0515" stroke-width="1.4"/>
<circle cx="526.6" cy="87.4" r="4.2" fill="#fb2f95" stroke="#2a0515" stroke-width="1.4"/>
<circle cx="531.6" cy="89.9" r="4.2" fill="#fb2f95" stroke="#2a0515" stroke-width="1.4"/>
<circle cx="522.4" cy="90.7" r="4.2" fill="#fb2f95" stroke="#2a0515" stroke-width="1.4"/>
<circle cx="516.6" cy="99.1" r="4.2" fill="#fb2f95" stroke="#2a0515" stroke-width="1.4"/>
<circle cx="524.9" cy="97.4" r="4.2" fill="#fb2f95" stroke="#2a0515" stroke-width="1.4"/>
<circle cx="524.1" cy="103.2" r="4.2" fill="#fb2f95" stroke="#2a0515" stroke-width="1.4"/>
<circle cx="537.4" cy="103.2" r="4.2" fill="#fb2f95" stroke="#2a0515" stroke-width="1.4"/>
<circle cx="511.6" cy="102.4" r="4.2" fill="#fb2f95" stroke="#2a0515" stroke-width="1.4"/>
<circle cx="516.6" cy="106.6" r="4.2" fill="#fb2f95" stroke="#2a0515" stroke-width="1.4"/>
<circle cx="510.0" cy="107.4" r="4.2" fill="#fb2f95" stroke="#2a0515" stroke-width="1.4"/>
<circle cx="505.0" cy="111.5" r="4.2" fill="#fb2f95" stroke="#2a0515" stroke-width="1.4"/>
<circle cx="511.6" cy="113.2" r="4.2" fill="#fb2f95" stroke="#2a0515" stroke-width="1.4"/>
<circle cx="501.6" cy="118.2" r="4.2" fill="#fb2f95" stroke="#2a0515" stroke-width="1.4"/>
<circle cx="509.1" cy="117.4" r="4.2" fill="#fb2f95" stroke="#2a0515" stroke-width="1.4"/>
<circle cx="520.0" cy="118.2" r="4.2" fill="#fb2f95" stroke="#2a0515" stroke-width="1.4"/>
<circle cx="471.6" cy="163.2" r="4.2" fill="#fb2f95" stroke="#2a0515" stroke-width="1.4"/>
<circle cx="469.9" cy="164.9" r="4.2" fill="#fb2f95" stroke="#2a0515" stroke-width="1.4"/>
<circle cx="480.7" cy="156.6" r="4.2" fill="#fb2f95" stroke="#2a0515" stroke-width="1.4"/>
<circle cx="481.6" cy="163.2" r="4.2" fill="#fb2f95" stroke="#2a0515" stroke-width="1.4"/>
<circle cx="483.2" cy="170.7" r="4.2" fill="#fb2f95" stroke="#2a0515" stroke-width="1.4"/>
<circle cx="489.9" cy="149.9" r="4.2" fill="#fb2f95" stroke="#2a0515" stroke-width="1.4"/>
<circle cx="491.6" cy="159.1" r="4.2" fill="#fb2f95" stroke="#2a0515" stroke-width="1.4"/>
<circle cx="494.1" cy="140.8" r="4.2" fill="#fb2f95" stroke="#2a0515" stroke-width="1.4"/>
<circle cx="498.2" cy="147.4" r="4.2" fill="#fb2f95" stroke="#2a0515" stroke-width="1.4"/>
<circle cx="489.9" cy="131.6" r="4.2" fill="#fb2f95" stroke="#2a0515" stroke-width="1.4"/>
<circle cx="493.2" cy="129.1" r="4.2" fill="#fb2f95" stroke="#2a0515" stroke-width="1.4"/>
<circle cx="498.2" cy="133.3" r="4.2" fill="#fb2f95" stroke="#2a0515" stroke-width="1.4"/>
<circle cx="503.2" cy="129.1" r="4.2" fill="#fb2f95" stroke="#2a0515" stroke-width="1.4"/>
<circle cx="503.2" cy="120.0" r="4.2" fill="#fb2f95" stroke="#2a0515" stroke-width="1.4"/>
<circle cx="507.4" cy="125.0" r="4.2" fill="#fb2f95" stroke="#2a0515" stroke-width="1.4"/>
<circle cx="510.7" cy="118.3" r="4.2" fill="#fb2f95" stroke="#2a0515" stroke-width="1.4"/>
<circle cx="505.7" cy="112.5" r="4.2" fill="#fb2f95" stroke="#2a0515" stroke-width="1.4"/>
<circle cx="509.9" cy="108.3" r="4.2" fill="#fb2f95" stroke="#2a0515" stroke-width="1.4"/>
<circle cx="516.5" cy="107.5" r="4.2" fill="#fb2f95" stroke="#2a0515" stroke-width="1.4"/>
<circle cx="511.5" cy="103.3" r="4.2" fill="#fb2f95" stroke="#2a0515" stroke-width="1.4"/>
<circle cx="524.0" cy="103.3" r="4.2" fill="#fb2f95" stroke="#2a0515" stroke-width="1.4"/>
<circle cx="520.7" cy="121.6" r="4.2" fill="#fb2f95" stroke="#2a0515" stroke-width="1.4"/>
<circle cx="523.2" cy="130.0" r="4.2" fill="#fb2f95" stroke="#2a0515" stroke-width="1.4"/>
<circle cx="512.4" cy="144.1" r="4.2" fill="#fb2f95" stroke="#2a0515" stroke-width="1.4"/>
<circle cx="505.7" cy="148.3" r="4.2" fill="#fb2f95" stroke="#2a0515" stroke-width="1.4"/>
<circle cx="535.7" cy="135.8" r="4.2" fill="#fb2f95" stroke="#2a0515" stroke-width="1.4"/>
<circle cx="501.5" cy="125.0" r="4.2" fill="#fb2f95" stroke="#2a0515" stroke-width="1.4"/>
<circle cx="499.9" cy="138.3" r="4.2" fill="#fb2f95" stroke="#2a0515" stroke-width="1.4"/>
<circle cx="471.9" cy="199.3" r="4.2" fill="#fb2f95" stroke="#2a0515" stroke-width="1.4"/>
<circle cx="477.3" cy="187.8" r="4.2" fill="#fb2f95" stroke="#2a0515" stroke-width="1.4"/>
<circle cx="471.9" cy="162.8" r="4.2" fill="#fb2f95" stroke="#2a0515" stroke-width="1.4"/>
<circle cx="470.5" cy="165.5" r="4.2" fill="#fb2f95" stroke="#2a0515" stroke-width="1.4"/>
<circle cx="480.7" cy="156.1" r="4.2" fill="#fb2f95" stroke="#2a0515" stroke-width="1.4"/>
<circle cx="481.4" cy="163.5" r="4.2" fill="#fb2f95" stroke="#2a0515" stroke-width="1.4"/>
<circle cx="485.4" cy="167.6" r="4.2" fill="#fb2f95" stroke="#2a0515" stroke-width="1.4"/>
<circle cx="482.7" cy="171.6" r="4.2" fill="#fb2f95" stroke="#2a0515" stroke-width="1.4"/>
<circle cx="490.8" cy="158.8" r="4.2" fill="#fb2f95" stroke="#2a0515" stroke-width="1.4"/>
<circle cx="489.5" cy="151.4" r="4.2" fill="#fb2f95" stroke="#2a0515" stroke-width="1.4"/>
<circle cx="523.0" cy="88.7" r="4.2" fill="#fb2f95" stroke="#2a0515" stroke-width="1.4"/>
<circle cx="527.4" cy="87.5" r="4.2" fill="#fb2f95" stroke="#2a0515" stroke-width="1.4"/>
<circle cx="516.2" cy="98.1" r="4.2" fill="#fb2f95" stroke="#2a0515" stroke-width="1.4"/>
<circle cx="511.2" cy="103.1" r="4.2" fill="#fb2f95" stroke="#2a0515" stroke-width="1.4"/>
<circle cx="523.6" cy="102.4" r="4.2" fill="#fb2f95" stroke="#2a0515" stroke-width="1.4"/>
<circle cx="516.2" cy="107.4" r="4.2" fill="#fb2f95" stroke="#2a0515" stroke-width="1.4"/>
<circle cx="508.0" cy="108.1" r="4.2" fill="#fb2f95" stroke="#2a0515" stroke-width="1.4"/>
<circle cx="504.3" cy="112.4" r="4.2" fill="#fb2f95" stroke="#2a0515" stroke-width="1.4"/>
<circle cx="512.4" cy="112.4" r="4.2" fill="#fb2f95" stroke="#2a0515" stroke-width="1.4"/>
<circle cx="503.0" cy="119.3" r="4.2" fill="#fb2f95" stroke="#2a0515" stroke-width="1.4"/>
<circle cx="509.9" cy="118.7" r="4.2" fill="#fb2f95" stroke="#2a0515" stroke-width="1.4"/>
<circle cx="497.4" cy="122.4" r="4.2" fill="#fb2f95" stroke="#2a0515" stroke-width="1.4"/>
<circle cx="504.9" cy="124.9" r="4.2" fill="#fb2f95" stroke="#2a0515" stroke-width="1.4"/>
<circle cx="491.8" cy="127.4" r="4.2" fill="#fb2f95" stroke="#2a0515" stroke-width="1.4"/>
<circle cx="521.1" cy="122.4" r="4.2" fill="#fb2f95" stroke="#2a0515" stroke-width="1.4"/>
<circle cx="523.6" cy="127.4" r="4.2" fill="#fb2f95" stroke="#2a0515" stroke-width="1.4"/>
<circle cx="537.4" cy="102.9" r="4.2" fill="#fb2f95" stroke="#2a0515" stroke-width="1.4"/>
<circle cx="535.7" cy="135.6" r="4.2" fill="#fb2f95" stroke="#2a0515" stroke-width="1.4"/>
<circle cx="522.8" cy="129.8" r="4.2" fill="#fb2f95" stroke="#2a0515" stroke-width="1.4"/>
<circle cx="520.5" cy="121.6" r="4.2" fill="#fb2f95" stroke="#2a0515" stroke-width="1.4"/>
<circle cx="512.3" cy="143.2" r="4.2" fill="#fb2f95" stroke="#2a0515" stroke-width="1.4"/>
<circle cx="490.2" cy="131.8" r="4.2" fill="#fb2f95" stroke="#2a0515" stroke-width="1.4"/>
<circle cx="494.6" cy="129.7" r="4.2" fill="#fb2f95" stroke="#2a0515" stroke-width="1.4"/>
<circle cx="501.1" cy="127.5" r="4.2" fill="#fb2f95" stroke="#2a0515" stroke-width="1.4"/>
<circle cx="505.5" cy="123.1" r="4.2" fill="#fb2f95" stroke="#2a0515" stroke-width="1.4"/>
<circle cx="503.3" cy="118.7" r="4.2" fill="#fb2f95" stroke="#2a0515" stroke-width="1.4"/>
<circle cx="509.9" cy="119.8" r="4.2" fill="#fb2f95" stroke="#2a0515" stroke-width="1.4"/>
<circle cx="505.5" cy="113.3" r="4.2" fill="#fb2f95" stroke="#2a0515" stroke-width="1.4"/>
<circle cx="513.1" cy="113.3" r="4.2" fill="#fb2f95" stroke="#2a0515" stroke-width="1.4"/>
<circle cx="494.6" cy="140.6" r="4.2" fill="#fb2f95" stroke="#2a0515" stroke-width="1.4"/>
<circle cx="500.0" cy="136.2" r="4.2" fill="#fb2f95" stroke="#2a0515" stroke-width="1.4"/>
<circle cx="491.3" cy="149.3" r="4.2" fill="#fb2f95" stroke="#2a0515" stroke-width="1.4"/>
<circle cx="497.9" cy="148.2" r="4.2" fill="#fb2f95" stroke="#2a0515" stroke-width="1.4"/>
<circle cx="490.2" cy="158.0" r="4.2" fill="#fb2f95" stroke="#2a0515" stroke-width="1.4"/>
<circle cx="484.8" cy="162.4" r="4.2" fill="#fb2f95" stroke="#2a0515" stroke-width="1.4"/>
<circle cx="480.4" cy="156.9" r="4.2" fill="#fb2f95" stroke="#2a0515" stroke-width="1.4"/>
<circle cx="482.6" cy="171.1" r="4.2" fill="#fb2f95" stroke="#2a0515" stroke-width="1.4"/>
<circle cx="472.8" cy="162.4" r="4.2" fill="#fb2f95" stroke="#2a0515" stroke-width="1.4"/>
<circle cx="470.6" cy="164.6" r="4.2" fill="#fb2f95" stroke="#2a0515" stroke-width="1.4"/>
<circle cx="485.9" cy="166.8" r="4.2" fill="#fb2f95" stroke="#2a0515" stroke-width="1.4"/>
<circle cx="499.0" cy="153.7" r="4.2" fill="#fb2f95" stroke="#2a0515" stroke-width="1.4"/>
<circle cx="505.5" cy="148.2" r="4.2" fill="#fb2f95" stroke="#2a0515" stroke-width="1.4"/>
<circle cx="519.7" cy="120.9" r="4.2" fill="#fb2f95" stroke="#2a0515" stroke-width="1.4"/>
<rect x="252.75" y="276.25" width="7.5" height="7.5" fill="#33fbf8" stroke="#0c3535" stroke-width="1.3"/>
<rect x="237.75" y="278.65" width="7.5" height="7.5" fill="#33fbf8" stroke="#0c3535" stroke-width="1.3"/>
<rect x="229.45" y="285.35" width="7.5" height="7.5" fill="#33fbf8" stroke="#0c3535" stroke-width="1.3"/>
<rect x="234.45" y="286.15" width="7.5" height="7.5" fill="#33fbf8" stroke="#0c3535" stroke-width="1.3"/>
<rect x="241.15" y="287.85" width="7.5" height="7.5" fill="#33fbf8" stroke="#0c3535" stroke-width="1.3"/>
<rect x="231.15" y="295.35" width="7.5" height="7.5" fill="#33fbf8" stroke="#0c3535" stroke-width="1.3"/>
<rect x="237.75" y="296.15" width="7.5" height="7.5" fill="#33fbf8" stroke="#0c3535" stroke-width="1.3"/>
<rect x="245.25" y="303.65" width="7.5" height="7.5" fill="#33fbf8" stroke="#0c3535" stroke-width="1.3"/>
<rect x="200.35" y="301.15" width="7.5" height="7.5" fill="#33fbf8" stroke="#0c3535" stroke-width="1.3"/>
<rect x="215.35" y="303.65" width="7.5" height="7.5" fill="#33fbf8" stroke="#0c3535" stroke-width="1.3"/>
<rect x="182.85" y="311.15" width="7.5" height="7.5" fill="#33fbf8" stroke="#0c3535" stroke-width="1.3"/>
<rect x="177.85" y="318.65" width="7.5" height="7.5" fill="#33fbf8" stroke="#0c3535" stroke-width="1.3"/>
<rect x="183.75" y="320.25" width="7.5" height="7.5" fill="#33fbf8" stroke="#0c3535" stroke-width="1.3"/>
<rect x="198.65" y="316.15" width="7.5" height="7.5" fill="#33fbf8" stroke="#0c3535" stroke-width="1.3"/>
<rect x="212.85" y="315.25" width="7.5" height="7.5" fill="#33fbf8" stroke="#0c3535" stroke-width="1.3"/>
<rect x="211.15" y="319.45" width="7.5" height="7.5" fill="#33fbf8" stroke="#0c3535" stroke-width="1.3"/>
<rect x="202.05" y="324.45" width="7.5" height="7.5" fill="#33fbf8" stroke="#0c3535" stroke-width="1.3"/>
<rect x="268.65" y="263.65" width="7.5" height="7.5" fill="#33fbf8" stroke="#0c3535" stroke-width="1.3"/>
<rect x="216.95" y="297.85" width="7.5" height="7.5" fill="#33fbf8" stroke="#0c3535" stroke-width="1.3"/>
<rect x="164.05" y="349.85" width="7.5" height="7.5" fill="#33fbf8" stroke="#0c3535" stroke-width="1.3"/>
<rect x="183.75" y="374.55" width="7.5" height="7.5" fill="#33fbf8" stroke="#0c3535" stroke-width="1.3"/>
<rect x="186.75" y="343.95" width="7.5" height="7.5" fill="#33fbf8" stroke="#0c3535" stroke-width="1.3"/>
<rect x="202.55" y="325.15" width="7.5" height="7.5" fill="#33fbf8" stroke="#0c3535" stroke-width="1.3"/>
<rect x="183.75" y="321.15" width="7.5" height="7.5" fill="#33fbf8" stroke="#0c3535" stroke-width="1.3"/>
<rect x="178.85" y="318.25" width="7.5" height="7.5" fill="#33fbf8" stroke="#0c3535" stroke-width="1.3"/>
<rect x="198.55" y="330.05" width="7.5" height="7.5" fill="#33fbf8" stroke="#0c3535" stroke-width="1.3"/>
<rect x="211.45" y="320.25" width="7.5" height="7.5" fill="#33fbf8" stroke="#0c3535" stroke-width="1.3"/>
<rect x="237.25" y="278.85" width="7.5" height="7.5" fill="#33fbf8" stroke="#0c3535" stroke-width="1.3"/>
<rect x="232.75" y="279.85" width="7.5" height="7.5" fill="#33fbf8" stroke="#0c3535" stroke-width="1.3"/>
<rect x="229.05" y="287.15" width="7.5" height="7.5" fill="#33fbf8" stroke="#0c3535" stroke-width="1.3"/>
<rect x="234.55" y="287.15" width="7.5" height="7.5" fill="#33fbf8" stroke="#0c3535" stroke-width="1.3"/>
<rect x="240.95" y="287.15" width="7.5" height="7.5" fill="#33fbf8" stroke="#0c3535" stroke-width="1.3"/>
<rect x="235.45" y="290.75" width="7.5" height="7.5" fill="#33fbf8" stroke="#0c3535" stroke-width="1.3"/>
<rect x="242.75" y="290.75" width="7.5" height="7.5" fill="#33fbf8" stroke="#0c3535" stroke-width="1.3"/>
<rect x="230.85" y="295.35" width="7.5" height="7.5" fill="#33fbf8" stroke="#0c3535" stroke-width="1.3"/>
<rect x="237.75" y="295.35" width="7.5" height="7.5" fill="#33fbf8" stroke="#0c3535" stroke-width="1.3"/>
<rect x="245.55" y="303.15" width="7.5" height="7.5" fill="#33fbf8" stroke="#0c3535" stroke-width="1.3"/>
<rect x="234.55" y="300.85" width="7.5" height="7.5" fill="#33fbf8" stroke="#0c3535" stroke-width="1.3"/>
<rect x="218.05" y="299.05" width="7.5" height="7.5" fill="#33fbf8" stroke="#0c3535" stroke-width="1.3"/>
<rect x="182.25" y="362.25" width="7.5" height="7.5" fill="#33fbf8" stroke="#0c3535" stroke-width="1.3"/>
<circle cx="205.3" cy="269.6" r="4.2" fill="#fb2f95" stroke="#2a0515" stroke-width="1.4"/>
<circle cx="230.7" cy="277.5" r="4.2" fill="#fb2f95" stroke="#2a0515" stroke-width="1.4"/>
<circle cx="238.5" cy="276.3" r="4.2" fill="#fb2f95" stroke="#2a0515" stroke-width="1.4"/>
<circle cx="227.4" cy="284.1" r="4.2" fill="#fb2f95" stroke="#2a0515" stroke-width="1.4"/>
<circle cx="248.2" cy="286.6" r="4.2" fill="#fb2f95" stroke="#2a0515" stroke-width="1.4"/>
<circle cx="254.5" cy="284.1" r="4.2" fill="#fb2f95" stroke="#2a0515" stroke-width="1.4"/>
<circle cx="216.6" cy="290.8" r="4.2" fill="#fb2f95" stroke="#2a0515" stroke-width="1.4"/>
<circle cx="210.7" cy="295.8" r="4.2" fill="#fb2f95" stroke="#2a0515" stroke-width="1.4"/>
<circle cx="222.4" cy="295.8" r="4.2" fill="#fb2f95" stroke="#2a0515" stroke-width="1.4"/>
<circle cx="216.6" cy="297.4" r="4.2" fill="#fb2f95" stroke="#2a0515" stroke-width="1.4"/>
<circle cx="210.7" cy="303.2" r="4.2" fill="#fb2f95" stroke="#2a0515" stroke-width="1.4"/>
<circle cx="190.8" cy="308.2" r="4.2" fill="#fb2f95" stroke="#2a0515" stroke-width="1.4"/>
<circle cx="194.1" cy="312.4" r="4.2" fill="#fb2f95" stroke="#2a0515" stroke-width="1.4"/>
<circle cx="199.9" cy="312.4" r="4.2" fill="#fb2f95" stroke="#2a0515" stroke-width="1.4"/>
<circle cx="195.8" cy="316.6" r="4.2" fill="#fb2f95" stroke="#2a0515" stroke-width="1.4"/>
<circle cx="194.1" cy="327.4" r="4.2" fill="#fb2f95" stroke="#2a0515" stroke-width="1.4"/>
<circle cx="176.7" cy="335.8" r="4.2" fill="#fb2f95" stroke="#2a0515" stroke-width="1.4"/>
<circle cx="194.4" cy="327.9" r="4.2" fill="#fb2f95" stroke="#2a0515" stroke-width="1.4"/>
<circle cx="189.5" cy="334.8" r="4.2" fill="#fb2f95" stroke="#2a0515" stroke-width="1.4"/>
<circle cx="206.3" cy="335.8" r="4.2" fill="#fb2f95" stroke="#2a0515" stroke-width="1.4"/>
<circle cx="184.6" cy="343.7" r="4.2" fill="#fb2f95" stroke="#2a0515" stroke-width="1.4"/>
<circle cx="178.6" cy="348.6" r="4.2" fill="#fb2f95" stroke="#2a0515" stroke-width="1.4"/>
<circle cx="185.6" cy="349.6" r="4.2" fill="#fb2f95" stroke="#2a0515" stroke-width="1.4"/>
<circle cx="174.7" cy="352.6" r="4.2" fill="#fb2f95" stroke="#2a0515" stroke-width="1.4"/>
<circle cx="189.5" cy="353.6" r="4.2" fill="#fb2f95" stroke="#2a0515" stroke-width="1.4"/>
<circle cx="177.7" cy="356.5" r="4.2" fill="#fb2f95" stroke="#2a0515" stroke-width="1.4"/>
<circle cx="203.3" cy="348.6" r="4.2" fill="#fb2f95" stroke="#2a0515" stroke-width="1.4"/>
<circle cx="177.7" cy="363.5" r="4.2" fill="#fb2f95" stroke="#2a0515" stroke-width="1.4"/>
<circle cx="181.6" cy="371.4" r="4.2" fill="#fb2f95" stroke="#2a0515" stroke-width="1.4"/>
<circle cx="178.6" cy="376.3" r="4.2" fill="#fb2f95" stroke="#2a0515" stroke-width="1.4"/>
<circle cx="170.7" cy="378.3" r="4.2" fill="#fb2f95" stroke="#2a0515" stroke-width="1.4"/>
<circle cx="173.7" cy="384.2" r="4.2" fill="#fb2f95" stroke="#2a0515" stroke-width="1.4"/>
<circle cx="183.6" cy="385.2" r="4.2" fill="#fb2f95" stroke="#2a0515" stroke-width="1.4"/>
<circle cx="169.8" cy="392.1" r="4.2" fill="#fb2f95" stroke="#2a0515" stroke-width="1.4"/>
<circle cx="170.7" cy="401.0" r="4.2" fill="#fb2f95" stroke="#2a0515" stroke-width="1.4"/>
<circle cx="190.5" cy="398.0" r="4.2" fill="#fb2f95" stroke="#2a0515" stroke-width="1.4"/>
<circle cx="220.9" cy="291.8" r="4.2" fill="#fb2f95" stroke="#2a0515" stroke-width="1.4"/>
<circle cx="180.5" cy="351.0" r="4.2" fill="#fb2f95" stroke="#2a0515" stroke-width="1.4"/>
<circle cx="186.0" cy="355.0" r="4.2" fill="#fb2f95" stroke="#2a0515" stroke-width="1.4"/>
<rect x="583.65" y="284.35" width="7.5" height="7.5" fill="#33fbf8" stroke="#0c3535" stroke-width="1.3"/>
<rect x="569.95" y="286.25" width="7.5" height="7.5" fill="#33fbf8" stroke="#0c3535" stroke-width="1.3"/>
<rect x="565.55" y="291.85" width="7.5" height="7.5" fill="#33fbf8" stroke="#0c3535" stroke-width="1.3"/>
<rect x="574.95" y="287.45" width="7.5" height="7.5" fill="#33fbf8" stroke="#0c3535" stroke-width="1.3"/>
<rect x="559.95" y="300.55" width="7.5" height="7.5" fill="#33fbf8" stroke="#0c3535" stroke-width="1.3"/>
<rect x="568.65" y="298.65" width="7.5" height="7.5" fill="#33fbf8" stroke="#0c3535" stroke-width="1.3"/>
<rect x="556.25" y="304.35" width="7.5" height="7.5" fill="#33fbf8" stroke="#0c3535" stroke-width="1.3"/>
<rect x="576.25" y="304.35" width="7.5" height="7.5" fill="#33fbf8" stroke="#0c3535" stroke-width="1.3"/>
<rect x="567.45" y="307.45" width="7.5" height="7.5" fill="#33fbf8" stroke="#0c3535" stroke-width="1.3"/>
<rect x="573.65" y="308.65" width="7.5" height="7.5" fill="#33fbf8" stroke="#0c3535" stroke-width="1.3"/>
<rect x="563.05" y="313.05" width="7.5" height="7.5" fill="#33fbf8" stroke="#0c3535" stroke-width="1.3"/>
<rect x="545.55" y="304.35" width="7.5" height="7.5" fill="#33fbf8" stroke="#0c3535" stroke-width="1.3"/>
<rect x="599.75" y="268.55" width="7.5" height="7.5" fill="#33fbf8" stroke="#0c3535" stroke-width="1.3"/>
<rect x="538.05" y="318.75" width="7.5" height="7.5" fill="#33fbf8" stroke="#0c3535" stroke-width="1.3"/>
<rect x="546.25" y="329.35" width="7.5" height="7.5" fill="#33fbf8" stroke="#0c3535" stroke-width="1.3"/>
<rect x="532.45" y="333.65" width="7.5" height="7.5" fill="#33fbf8" stroke="#0c3535" stroke-width="1.3"/>
<rect x="542.45" y="344.95" width="7.5" height="7.5" fill="#33fbf8" stroke="#0c3535" stroke-width="1.3"/>
<rect x="548.65" y="351.15" width="7.5" height="7.5" fill="#33fbf8" stroke="#0c3535" stroke-width="1.3"/>
<rect x="557.45" y="303.75" width="7.5" height="7.5" fill="#33fbf8" stroke="#0c3535" stroke-width="1.3"/>
<rect x="563.05" y="314.35" width="7.5" height="7.5" fill="#33fbf8" stroke="#0c3535" stroke-width="1.3"/>
<rect x="566.75" y="318.05" width="7.5" height="7.5" fill="#33fbf8" stroke="#0c3535" stroke-width="1.3"/>
<rect x="574.85" y="308.75" width="7.5" height="7.5" fill="#33fbf8" stroke="#0c3535" stroke-width="1.3"/>
<rect x="569.95" y="298.15" width="7.5" height="7.5" fill="#33fbf8" stroke="#0c3535" stroke-width="1.3"/>
<circle cx="570.6" cy="287.5" r="4.2" fill="#fb2f95" stroke="#2a0515" stroke-width="1.4"/>
<circle cx="562.4" cy="291.8" r="4.2" fill="#fb2f95" stroke="#2a0515" stroke-width="1.4"/>
<circle cx="559.3" cy="296.8" r="4.2" fill="#fb2f95" stroke="#2a0515" stroke-width="1.4"/>
<circle cx="585.5" cy="291.8" r="4.2" fill="#fb2f95" stroke="#2a0515" stroke-width="1.4"/>
<circle cx="580.5" cy="296.8" r="4.2" fill="#fb2f95" stroke="#2a0515" stroke-width="1.4"/>
<circle cx="547.5" cy="311.8" r="4.2" fill="#fb2f95" stroke="#2a0515" stroke-width="1.4"/>
<circle cx="556.8" cy="317.4" r="4.2" fill="#fb2f95" stroke="#2a0515" stroke-width="1.4"/>
<circle cx="548.1" cy="318.7" r="4.2" fill="#fb2f95" stroke="#2a0515" stroke-width="1.4"/>
<circle cx="546.8" cy="320.0" r="4.2" fill="#fb2f95" stroke="#2a0515" stroke-width="1.4"/>
<circle cx="554.9" cy="324.3" r="4.2" fill="#fb2f95" stroke="#2a0515" stroke-width="1.4"/>
<circle cx="548.1" cy="325.0" r="4.2" fill="#fb2f95" stroke="#2a0515" stroke-width="1.4"/>
<circle cx="536.2" cy="325.6" r="4.2" fill="#fb2f95" stroke="#2a0515" stroke-width="1.4"/>
<circle cx="543.1" cy="333.7" r="4.2" fill="#fb2f95" stroke="#2a0515" stroke-width="1.4"/>
<circle cx="540.6" cy="340.6" r="4.2" fill="#fb2f95" stroke="#2a0515" stroke-width="1.4"/>
<circle cx="531.2" cy="348.0" r="4.2" fill="#fb2f95" stroke="#2a0515" stroke-width="1.4"/>
<circle cx="537.7" cy="387.3" r="4.2" fill="#fb2f95" stroke="#2a0515" stroke-width="1.4"/>
<path d="M117.06,213.40 L117.59,207.79 L118.15,202.94 L118.72,198.65 L119.31,194.81 L119.91,191.34 L120.52,188.16 L121.14,185.22 L121.77,182.50 L122.40,179.97 L123.03,177.59 L123.68,175.35 L124.32,173.23 L124.97,171.22 L125.64,169.31 L126.36,167.48 L127.07,165.74 L127.79,164.07 L128.50,162.46 L129.21,160.92 L129.93,159.43 L130.64,157.99 L131.36,156.60 L132.07,155.26 L132.79,153.96 L133.50,152.69 L134.21,151.46 L134.93,150.26 L135.64,149.10 L136.36,147.96 L137.07,146.86 L137.78,145.78 L138.50,144.72 L139.21,143.69 L139.93,142.68 L140.64,141.69 L141.35,140.72 L142.07,139.77 L142.78,138.84 L143.50,137.92 L144.21,137.02 L144.92,136.14 L145.64,135.27 L146.35,134.42 L147.07,133.58 L147.78,132.75 L148.50,131.94 L149.21,131.13 L149.92,130.34 L150.64,129.56 L151.35,128.80 L152.07,128.04 L152.78,127.29 L153.49,126.55 L154.21,125.82 L154.92,125.10 L155.64,124.39 L156.35,123.68 L157.06,122.99 L157.78,122.30 L158.49,121.61 L159.21,120.94 L159.92,120.27 L160.64,119.61 L161.35,118.96 L162.06,118.31 L162.78,117.67 L163.49,117.03 L164.21,116.40 L164.92,115.77 L165.63,115.16 L166.35,114.54 L167.06,113.93 L167.78,113.33 L168.49,112.73 L169.20,112.13 L169.92,111.54 L170.63,110.95 L171.35,110.37 L172.06,109.79 L172.77,109.22 L173.49,108.64 L174.20,108.08 L174.92,107.51 L175.63,106.95 L176.35,106.40 L177.06,105.84 L177.77,105.29 L178.49,104.75 L179.20,104.20 L179.92,103.66 L180.63,103.13 L181.34,102.59 L182.06,102.06 L182.77,101.53 L183.49,101.00 L184.20,100.48 L184.91,99.96 L185.63,99.44 L186.34,98.92 L187.06,98.41 L187.77,97.89 L188.48,97.38 L189.20,96.87 L189.91,96.37 L190.63,95.86 L191.34,95.36 L192.06,94.86 L192.77,94.37 L193.48,93.87 L194.20,93.37 L194.91,92.88 L195.63,92.39 L196.34,91.90 L197.05,91.41 L197.77,90.93 L198.48,90.44 L199.20,89.96 L199.91,89.48 L200.62,89.00 L201.34,88.52 L202.05,88.05 L202.77,87.57 L203.48,87.10 L204.20,86.62 L204.91,86.15 L205.62,85.68 L206.34,85.21 L207.05,84.74 L207.77,84.28 L208.48,83.81 L209.19,83.35 L209.91,82.88 L210.62,82.42 L211.34,81.96 L212.05,81.50 L212.76,81.04 L213.48,80.58 L214.19,80.13 L214.91,79.67 L215.62,79.21 L216.33,78.76 L217.05,78.31 L217.76,77.85 L218.48,77.40 L219.19,76.95 L219.91,76.50 L220.62,76.05 L221.33,75.60 L222.05,75.15 L222.76,74.71 L223.48,74.26 L224.19,73.81 L224.90,73.37 L225.62,72.93 L226.33,72.48 L227.05,72.04 L227.76,71.60 L228.47,71.15 L229.19,70.71 L229.90,70.27 L230.62,69.83 L231.33,69.39 L232.05,68.96 L232.76,68.52 L233.47,68.08 L234.19,67.64 L234.90,67.21 L235.62,66.77 L236.33,66.33 L237.04,65.90 L237.76,65.46 L238.47,65.03 L239.19,64.60 L239.90,64.16 L240.61,63.73 L241.33,63.30 L242.04,62.87 L242.76,62.43 L243.47,62.00 L244.18,61.57 L244.90,61.14 L245.61,60.71 L246.33,60.28 L247.04,59.85 L247.76,59.43 L248.47,59.00 L249.18,58.57 L249.90,58.14 L250.61,57.71 L251.33,57.29 L252.04,56.86 L252.75,56.43 L253.47,56.01 L254.18,55.58 L254.90,55.16 L255.61,54.73 L256.32,54.31 L257.04,53.88 L257.75,53.46 L258.47,53.03" fill="none" stroke="#4a4a4a" stroke-width="2.8" stroke-linecap="round"/>
<path d="M481.71,213.40 L482.25,209.07 L482.79,205.20 L483.33,201.71 L483.87,198.52 L484.41,195.58 L484.96,192.86 L485.50,190.33 L486.04,187.95 L486.58,185.72 L487.12,183.62 L487.66,181.62 L488.20,179.73 L488.74,177.92 L489.29,176.19 L489.83,174.54 L490.37,172.96 L490.91,171.44 L491.45,169.97 L491.99,168.56 L492.53,167.20 L493.07,165.88 L493.62,164.60 L494.16,163.36 L494.70,162.16 L495.24,160.99 L495.78,159.86 L496.32,158.75 L496.86,157.68 L497.40,156.63 L497.95,155.60 L498.49,154.60 L499.03,153.63 L499.57,152.67 L500.11,151.74 L500.65,150.82 L501.19,149.92 L501.74,149.05 L502.28,148.18 L502.82,147.34 L503.36,146.51 L503.90,145.69 L504.44,144.89 L504.98,144.10 L505.52,143.33 L506.07,142.57 L506.61,141.82 L507.15,141.08 L507.69,140.35 L508.23,139.64 L508.77,138.93 L509.31,138.23 L509.85,137.55 L510.40,136.87 L510.94,136.20 L511.48,135.54 L512.02,134.89 L512.56,134.25 L513.10,133.61 L513.64,132.98 L514.19,132.36 L514.73,131.75 L515.27,131.14 L515.81,130.54 L516.35,129.95 L516.89,129.36 L517.43,128.78 L517.97,128.20 L518.52,127.63 L519.06,127.07 L519.60,126.51 L520.14,125.96 L520.68,125.41 L521.22,124.86 L521.76,124.33 L522.30,123.79 L522.85,123.26 L523.39,122.74 L523.93,122.22 L524.47,121.70 L525.01,121.19 L525.55,120.68 L526.09,120.17 L526.63,119.67 L527.18,119.18 L527.72,118.68 L528.26,118.19 L528.80,117.71 L529.34,117.22 L529.88,116.74 L530.42,116.27 L530.97,115.79 L531.51,115.32 L532.05,114.86 L532.59,114.39 L533.13,113.93 L533.67,113.47 L534.21,113.02 L534.75,112.56 L535.30,112.11 L535.84,111.66 L536.38,111.22 L536.92,110.77 L537.46,110.33 L538.00,109.89 L538.54,109.46 L539.08,109.02 L539.63,108.59 L540.17,108.16 L540.71,107.73 L541.25,107.31 L541.79,106.88 L542.33,106.46 L542.87,106.04 L543.42,105.62 L543.96,105.21 L544.50,104.79 L545.04,104.38 L545.58,103.97 L546.12,103.56 L546.66,103.15 L547.20,102.75 L547.75,102.34 L548.29,101.94 L548.83,101.54 L549.37,101.14 L549.91,100.74 L550.45,100.35 L550.99,99.95 L551.53,99.56 L552.08,99.16 L552.62,98.77 L553.16,98.38 L553.70,97.99 L554.24,97.61 L554.78,97.22 L555.32,96.84 L555.86,96.45 L556.41,96.07 L556.95,95.69 L557.49,95.31 L558.03,94.93 L558.57,94.55 L559.11,94.18 L559.65,93.80 L560.20,93.42 L560.74,93.05 L561.28,92.68 L561.82,92.31 L562.36,91.94 L562.90,91.57 L563.44,91.20 L563.98,90.83 L564.53,90.46 L565.07,90.10 L565.61,89.73 L566.15,89.37 L566.69,89.00 L567.23,88.64 L567.77,88.28 L568.31,87.92 L568.86,87.56 L569.40,87.20 L569.94,86.84 L570.48,86.48 L571.02,86.12 L571.56,85.77 L572.10,85.41 L572.65,85.06 L573.19,84.70 L573.73,84.35 L574.27,83.99 L574.81,83.64 L575.35,83.29 L575.89,82.94 L576.43,82.59 L576.98,82.24 L577.52,81.89 L578.06,81.54 L578.60,81.19 L579.14,80.84 L579.68,80.50 L580.22,80.15 L580.76,79.80 L581.31,79.46 L581.85,79.11 L582.39,78.77 L582.93,78.42 L583.47,78.08 L584.01,77.74 L584.55,77.39 L585.09,77.05 L585.64,76.71 L586.18,76.37 L586.72,76.03 L587.26,75.69 L587.80,75.35 L588.34,75.01 L588.88,74.67 L589.43,74.33 L589.97,73.99" fill="none" stroke="#4a4a4a" stroke-width="2.8" stroke-linecap="round"/>
<path d="M176.13,414.60 L176.54,411.27 L176.95,408.21 L177.37,405.40 L177.78,402.79 L178.19,400.35 L178.60,398.06 L179.01,395.91 L179.42,393.87 L179.84,391.94 L180.25,390.11 L180.66,388.36 L181.07,386.69 L181.48,385.09 L181.89,383.55 L182.31,382.08 L182.72,380.66 L183.13,379.29 L183.54,377.97 L183.95,376.69 L184.36,375.45 L184.78,374.26 L185.19,373.09 L185.60,371.96 L186.01,370.87 L186.42,369.80 L186.83,368.76 L187.25,367.74 L187.66,366.75 L188.07,365.79 L188.48,364.85 L188.89,363.93 L189.30,363.03 L189.72,362.14 L190.13,361.28 L190.54,360.44 L190.95,359.61 L191.36,358.79 L191.77,358.00 L192.19,357.22 L192.60,356.45 L193.01,355.69 L193.42,354.95 L193.83,354.22 L194.24,353.51 L194.66,352.80 L195.07,352.11 L195.48,351.42 L195.89,350.75 L196.30,350.09 L196.72,349.44 L197.13,348.79 L197.54,348.16 L197.95,347.53 L198.36,346.91 L198.77,346.31 L199.19,345.70 L199.60,345.11 L200.01,344.52 L200.42,343.94 L200.83,343.37 L201.24,342.81 L201.66,342.25 L202.07,341.70 L202.48,341.15 L202.89,340.61 L203.30,340.08 L203.71,339.55 L204.13,339.02 L204.54,338.51 L204.95,338.00 L205.36,337.49 L205.77,336.99 L206.18,336.49 L206.60,336.00 L207.01,335.51 L207.42,335.02 L207.83,334.55 L208.24,334.07 L208.65,333.60 L209.07,333.13 L209.48,332.67 L209.89,332.21 L210.30,331.76 L210.71,331.31 L211.12,330.86 L211.54,330.42 L211.95,329.98 L212.36,329.54 L212.77,329.10 L213.18,328.67 L213.59,328.25 L214.01,327.82 L214.42,327.40 L214.83,326.98 L215.24,326.57 L215.65,326.16 L216.06,325.75 L216.48,325.34 L216.89,324.93 L217.30,324.53 L217.71,324.13 L218.12,323.74 L218.53,323.34 L218.95,322.95 L219.36,322.56 L219.77,322.17 L220.18,321.79 L220.59,321.41 L221.00,321.03 L221.42,320.65 L221.83,320.27 L222.24,319.90 L222.65,319.53 L223.06,319.16 L223.47,318.79 L223.89,318.42 L224.30,318.06 L224.71,317.70 L225.12,317.33 L225.53,316.98 L225.94,316.62 L226.36,316.26 L226.77,315.91 L227.18,315.56 L227.59,315.21 L228.00,314.86 L228.41,314.51 L228.83,314.17 L229.24,313.82 L229.65,313.48 L230.06,313.14 L230.47,312.80 L230.88,312.46 L231.30,312.12 L231.71,311.79 L232.12,311.45 L232.53,311.12 L232.94,310.79 L233.35,310.46 L233.77,310.13 L234.18,309.80 L234.59,309.48 L235.00,309.15 L235.41,308.83 L235.82,308.50 L236.24,308.18 L236.65,307.86 L237.06,307.54 L237.47,307.22 L237.88,306.91 L238.29,306.59 L238.71,306.28 L239.12,305.96 L239.53,305.65 L239.94,305.34 L240.35,305.03 L240.76,304.72 L241.18,304.41 L241.59,304.10 L242.00,303.79 L242.41,303.48 L242.82,303.18 L243.23,302.87 L243.65,302.57 L244.06,302.27 L244.47,301.97 L244.88,301.66 L245.29,301.36 L245.70,301.06 L246.12,300.77 L246.53,300.47 L246.94,300.17 L247.35,299.87 L247.76,299.58 L248.17,299.28 L248.59,298.99 L249.00,298.70 L249.41,298.40 L249.82,298.11 L250.23,297.82 L250.64,297.53 L251.06,297.24 L251.47,296.95 L251.88,296.66 L252.29,296.37 L252.70,296.09 L253.11,295.80 L253.53,295.51 L253.94,295.23 L254.35,294.94 L254.76,294.66 L255.17,294.37 L255.58,294.09 L256.00,293.81 L256.41,293.53 L256.82,293.25 L257.23,292.96 L257.64,292.68 L258.05,292.40 L258.47,292.13" fill="none" stroke="#4a4a4a" stroke-width="2.8" stroke-linecap="round"/>
<path d="M538.00,389.48 L538.26,388.38 L538.52,387.32 L538.78,386.28 L539.04,385.27 L539.30,384.29 L539.56,383.33 L539.82,382.40 L540.08,381.49 L540.34,380.60 L540.60,379.73 L540.86,378.88 L541.12,378.05 L541.38,377.24 L541.64,376.44 L541.90,375.66 L542.16,374.89 L542.42,374.14 L542.68,373.40 L542.94,372.68 L543.20,371.97 L543.46,371.27 L543.72,370.59 L543.98,369.92 L544.24,369.25 L544.50,368.60 L544.76,367.96 L545.02,367.33 L545.28,366.71 L545.54,366.10 L545.80,365.49 L546.06,364.90 L546.32,364.31 L546.58,363.74 L546.84,363.17 L547.10,362.61 L547.36,362.05 L547.62,361.51 L547.88,360.97 L548.14,360.44 L548.40,359.91 L548.66,359.39 L548.92,358.88 L549.18,358.37 L549.44,357.87 L549.70,357.38 L549.96,356.89 L550.21,356.41 L550.47,355.93 L550.73,355.46 L550.99,354.99 L551.25,354.53 L551.51,354.07 L551.77,353.62 L552.03,353.17 L552.29,352.73 L552.55,352.29 L552.81,351.85 L553.07,351.42 L553.33,351.00 L553.59,350.57 L553.85,350.16 L554.11,349.74 L554.37,349.33 L554.63,348.92 L554.89,348.52 L555.15,348.12 L555.41,347.73 L555.67,347.33 L555.93,346.94 L556.19,346.56 L556.45,346.17 L556.71,345.79 L556.97,345.42 L557.23,345.04 L557.49,344.67 L557.75,344.31 L558.01,343.94 L558.27,343.58 L558.53,343.22 L558.79,342.86 L559.05,342.51 L559.31,342.16 L559.57,341.81 L559.83,341.46 L560.09,341.12 L560.35,340.77 L560.61,340.44 L560.87,340.10 L561.13,339.76 L561.39,339.43 L561.65,339.10 L561.91,338.77 L562.17,338.45 L562.43,338.12 L562.69,337.80 L562.95,337.48 L563.21,337.16 L563.47,336.85 L563.73,336.53 L563.99,336.22 L564.24,335.91 L564.50,335.60 L564.76,335.30 L565.02,334.99 L565.28,334.69 L565.54,334.39 L565.80,334.09 L566.06,333.79 L566.32,333.49 L566.58,333.20 L566.84,332.91 L567.10,332.62 L567.36,332.33 L567.62,332.04 L567.88,331.75 L568.14,331.46 L568.40,331.18 L568.66,330.90 L568.92,330.62 L569.18,330.34 L569.44,330.06 L569.70,329.78 L569.96,329.51 L570.22,329.23 L570.48,328.96 L570.74,328.69 L571.00,328.42 L571.26,328.15 L571.52,327.88 L571.78,327.61 L572.04,327.35 L572.30,327.08 L572.56,326.82 L572.82,326.56 L573.08,326.30 L573.34,326.04 L573.60,325.78 L573.86,325.52 L574.12,325.26 L574.38,325.01 L574.64,324.75 L574.90,324.50 L575.16,324.25 L575.42,324.00 L575.68,323.75 L575.94,323.50 L576.20,323.25 L576.46,323.00 L576.72,322.76 L576.98,322.51 L577.24,322.27 L577.50,322.02 L577.76,321.78 L578.02,321.54 L578.27,321.30 L578.53,321.06 L578.79,320.82 L579.05,320.58 L579.31,320.34 L579.57,320.10 L579.83,319.87 L580.09,319.63 L580.35,319.40 L580.61,319.16 L580.87,318.93 L581.13,318.70 L581.39,318.47 L581.65,318.24 L581.91,318.01 L582.17,317.78 L582.43,317.55 L582.69,317.32 L582.95,317.10 L583.21,316.87 L583.47,316.64 L583.73,316.42 L583.99,316.20 L584.25,315.97 L584.51,315.75 L584.77,315.53 L585.03,315.31 L585.29,315.09 L585.55,314.86 L585.81,314.65 L586.07,314.43 L586.33,314.21 L586.59,313.99 L586.85,313.77 L587.11,313.56 L587.37,313.34 L587.63,313.13 L587.89,312.91 L588.15,312.70 L588.41,312.48 L588.67,312.27 L588.93,312.06 L589.19,311.85 L589.45,311.63 L589.71,311.42 L589.97,311.21" fill="none" stroke="#4a4a4a" stroke-width="2.8" stroke-linecap="round"/>
<rect x="84.5" y="0" width="455" height="29.5" fill="#fff"/>
<line x1="84" y1="0.5" x2="540" y2="0.5" stroke="#777" stroke-width="1"/>
<line x1="84" y1="29.3" x2="540" y2="29.3" stroke="#000" stroke-width="1"/>
<line x1="84.6" y1="0" x2="84.6" y2="29.8" stroke="#222" stroke-width="1"/>
<line x1="539.4" y1="0" x2="539.4" y2="29.8" stroke="#222" stroke-width="1"/>
<rect x="106.8" y="11.8" width="7" height="7" fill="#33fbf8" stroke="#0c3535" stroke-width="1"/>
<text x="139.6" y="21.9" style="font-family:'Liberation Serif',serif;font-size:20px;letter-spacing:0.16px">Pazarclk earthquake</text>
<circle cx="326.7" cy="15.4" r="4.4" fill="#fb2f95" stroke="#2a0515" stroke-width="1.4"/>
<text x="355.6" y="21.9" style="font-family:'Liberation Serif',serif;font-size:20px;letter-spacing:0.3px">Wenchuan earthquake</text>
</svg>
</body></html>
